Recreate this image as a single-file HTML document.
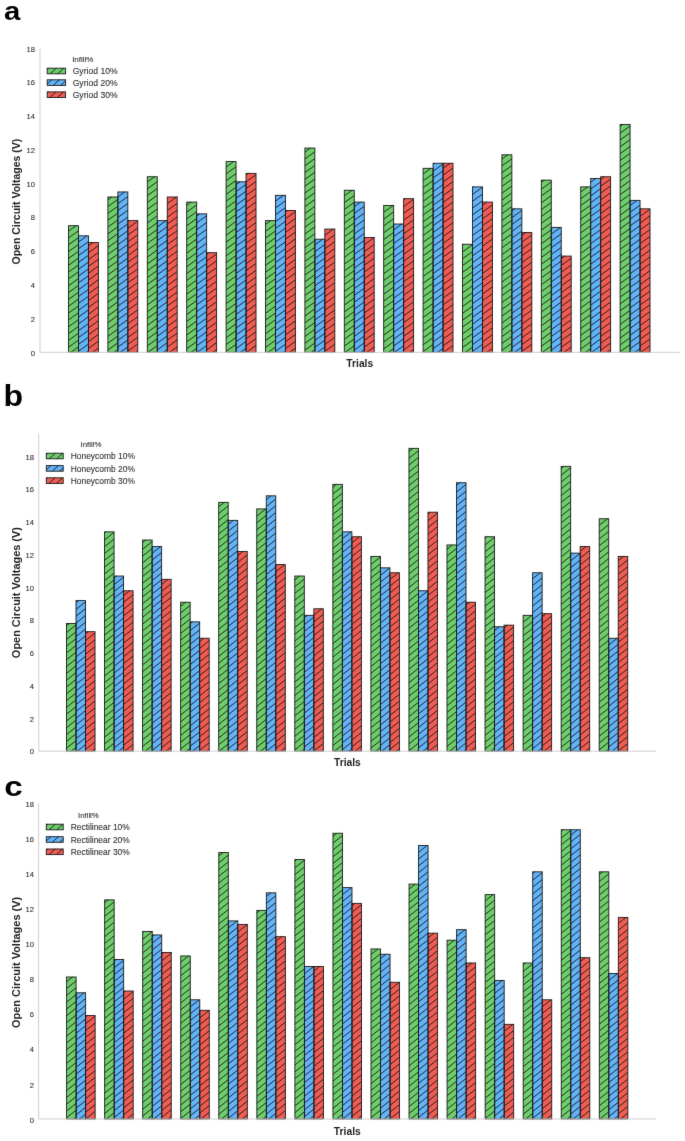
<!DOCTYPE html>
<html><head><meta charset="utf-8"><title>Figure</title>
<style>
html,body{margin:0;padding:0;background:#fff;}
body{width:685px;height:1141px;overflow:hidden;}
svg{display:block;font-family:"Liberation Sans",sans-serif;}
.tk{font-size:7.6px;fill:#303030;stroke:#333;stroke-width:0.1;}
.lg{fill:#303030;stroke:#333;stroke-width:0.1;}
.lt{fill:#303030;stroke:#333;stroke-width:0.1;}
.ax{font-weight:bold;fill:#1e1e1e;}
.pl{font-weight:bold;fill:#000;}
.b{stroke:#1a1a1a;stroke-width:0.9;}
.hh{fill:none;stroke:#141414;stroke-width:0.88;}
</style></head><body>
<svg width="685" height="1141" viewBox="0 0 685 1141">
<defs>

<filter id="bl" x="0" y="0" width="685" height="1141" filterUnits="userSpaceOnUse" color-interpolation-filters="sRGB"><feConvolveMatrix order="3" kernelMatrix="0 1 0 1 10 1 0 1 0" divisor="14" edgeMode="duplicate" preserveAlpha="true"/></filter>
</defs>
<g filter="url(#bl)"><rect x="0" y="0" width="685" height="1141" fill="#ffffff"/>
<g>
<text class="pl" font-size="26.5" transform="translate(4,19.6) scale(1.11,1)">a</text>
<text class="tk" text-anchor="end" x="35" y="355.5">0</text>
<text class="tk" text-anchor="end" x="35" y="321.74">2</text>
<text class="tk" text-anchor="end" x="35" y="287.98">4</text>
<text class="tk" text-anchor="end" x="35" y="254.22">6</text>
<text class="tk" text-anchor="end" x="35" y="220.46">8</text>
<text class="tk" text-anchor="end" x="35" y="186.7">10</text>
<text class="tk" text-anchor="end" x="35" y="152.94">12</text>
<text class="tk" text-anchor="end" x="35" y="119.18">14</text>
<text class="tk" text-anchor="end" x="35" y="85.42">16</text>
<text class="tk" text-anchor="end" x="35" y="51.66">18</text>
<text class="ax" font-size="10.5" text-anchor="middle" transform="translate(20.3,201.6) rotate(-90) scale(1,1)">Open Circuit Voltages (V)</text>
<text class="ax" font-size="10.3" text-anchor="middle" x="359.75" y="367.1">Trials</text>
<rect x="68.50" y="225.70" width="9.97" height="126.60" fill="#6fce6c"/>
<rect x="78.47" y="235.83" width="9.97" height="116.47" fill="#62b3f8"/>
<rect x="88.44" y="242.58" width="9.97" height="109.72" fill="#f05c53"/>
<rect x="107.90" y="197.00" width="9.97" height="155.30" fill="#6fce6c"/>
<rect x="117.87" y="191.94" width="9.97" height="160.36" fill="#62b3f8"/>
<rect x="127.84" y="220.64" width="9.97" height="131.66" fill="#f05c53"/>
<rect x="147.30" y="176.75" width="9.97" height="175.55" fill="#6fce6c"/>
<rect x="157.27" y="220.64" width="9.97" height="131.66" fill="#62b3f8"/>
<rect x="167.24" y="197.00" width="9.97" height="155.30" fill="#f05c53"/>
<rect x="186.70" y="202.07" width="9.97" height="150.23" fill="#6fce6c"/>
<rect x="196.67" y="213.88" width="9.97" height="138.42" fill="#62b3f8"/>
<rect x="206.64" y="252.71" width="9.97" height="99.59" fill="#f05c53"/>
<rect x="226.10" y="161.56" width="9.97" height="190.74" fill="#6fce6c"/>
<rect x="236.07" y="181.81" width="9.97" height="170.49" fill="#62b3f8"/>
<rect x="246.04" y="173.37" width="9.97" height="178.93" fill="#f05c53"/>
<rect x="265.50" y="220.64" width="9.97" height="131.66" fill="#6fce6c"/>
<rect x="275.47" y="195.32" width="9.97" height="156.98" fill="#62b3f8"/>
<rect x="285.44" y="210.51" width="9.97" height="141.79" fill="#f05c53"/>
<rect x="304.90" y="148.05" width="9.97" height="204.25" fill="#6fce6c"/>
<rect x="314.87" y="239.20" width="9.97" height="113.10" fill="#62b3f8"/>
<rect x="324.84" y="229.08" width="9.97" height="123.22" fill="#f05c53"/>
<rect x="344.30" y="190.25" width="9.97" height="162.05" fill="#6fce6c"/>
<rect x="354.27" y="202.07" width="9.97" height="150.23" fill="#62b3f8"/>
<rect x="364.24" y="237.52" width="9.97" height="114.78" fill="#f05c53"/>
<rect x="383.70" y="205.44" width="9.97" height="146.86" fill="#6fce6c"/>
<rect x="393.67" y="224.01" width="9.97" height="128.29" fill="#62b3f8"/>
<rect x="403.64" y="198.69" width="9.97" height="153.61" fill="#f05c53"/>
<rect x="423.10" y="168.31" width="9.97" height="183.99" fill="#6fce6c"/>
<rect x="433.07" y="163.24" width="9.97" height="189.06" fill="#62b3f8"/>
<rect x="443.04" y="163.24" width="9.97" height="189.06" fill="#f05c53"/>
<rect x="462.50" y="244.27" width="9.97" height="108.03" fill="#6fce6c"/>
<rect x="472.47" y="186.88" width="9.97" height="165.42" fill="#62b3f8"/>
<rect x="482.44" y="202.07" width="9.97" height="150.23" fill="#f05c53"/>
<rect x="501.90" y="154.80" width="9.97" height="197.50" fill="#6fce6c"/>
<rect x="511.87" y="208.82" width="9.97" height="143.48" fill="#62b3f8"/>
<rect x="521.84" y="232.45" width="9.97" height="119.85" fill="#f05c53"/>
<rect x="541.30" y="180.12" width="9.97" height="172.18" fill="#6fce6c"/>
<rect x="551.27" y="227.39" width="9.97" height="124.91" fill="#62b3f8"/>
<rect x="561.24" y="256.08" width="9.97" height="96.22" fill="#f05c53"/>
<rect x="580.70" y="186.88" width="9.97" height="165.42" fill="#6fce6c"/>
<rect x="590.67" y="178.44" width="9.97" height="173.86" fill="#62b3f8"/>
<rect x="600.64" y="176.75" width="9.97" height="175.55" fill="#f05c53"/>
<rect x="620.10" y="124.42" width="9.97" height="227.88" fill="#6fce6c"/>
<rect x="630.07" y="200.38" width="9.97" height="151.92" fill="#62b3f8"/>
<rect x="640.04" y="208.82" width="9.97" height="143.48" fill="#f05c53"/>
<path class="hh" d="M68.50 231.14L76.05 225.70M68.50 237.97L78.47 230.79M68.50 244.80L78.47 237.62M68.50 251.63L78.47 244.45M68.50 258.46L78.47 251.28M68.50 265.29L78.47 258.11M68.50 272.12L78.47 264.94M68.50 278.95L78.47 271.77M68.50 285.78L78.47 278.60M68.50 292.61L78.47 285.43M68.50 299.44L78.47 292.26M68.50 306.27L78.47 299.09M68.50 313.10L78.47 305.92M68.50 319.93L78.47 312.75M68.50 326.76L78.47 319.58M68.50 333.59L78.47 326.41M68.50 340.42L78.47 333.24M68.50 347.25L78.47 340.07M70.97 352.30L78.47 346.90M78.47 241.95L86.98 235.83M78.47 248.78L88.44 241.61M78.47 255.61L88.44 248.44M78.47 262.44L88.44 255.27M78.47 269.27L88.44 262.10M78.47 276.10L88.44 268.93M78.47 282.93L88.44 275.76M78.47 289.76L88.44 282.59M78.47 296.59L88.44 289.42M78.47 303.42L88.44 296.25M78.47 310.25L88.44 303.08M78.47 317.08L88.44 309.91M78.47 323.91L88.44 316.74M78.47 330.74L88.44 323.57M78.47 337.57L88.44 330.40M78.47 344.40L88.44 337.23M78.47 351.23L88.44 344.06M86.48 352.30L88.44 350.89M88.44 245.94L93.11 242.58M88.44 252.77L98.41 245.59M88.44 259.60L98.41 252.42M88.44 266.43L98.41 259.25M88.44 273.26L98.41 266.08M88.44 280.09L98.41 272.91M88.44 286.92L98.41 279.74M88.44 293.75L98.41 286.57M88.44 300.58L98.41 293.40M88.44 307.41L98.41 300.23M88.44 314.24L98.41 307.06M88.44 321.07L98.41 313.89M88.44 327.90L98.41 320.72M88.44 334.73L98.41 327.55M88.44 341.56L98.41 334.38M88.44 348.39L98.41 341.21M92.50 352.30L98.41 348.04M107.90 199.75L111.71 197.00M107.90 206.58L117.87 199.40M107.90 213.41L117.87 206.23M107.90 220.24L117.87 213.06M107.90 227.07L117.87 219.89M107.90 233.90L117.87 226.72M107.90 240.73L117.87 233.55M107.90 247.56L117.87 240.38M107.90 254.39L117.87 247.21M107.90 261.22L117.87 254.04M107.90 268.05L117.87 260.87M107.90 274.88L117.87 267.70M107.90 281.71L117.87 274.53M107.90 288.54L117.87 281.36M107.90 295.37L117.87 288.19M107.90 302.20L117.87 295.02M107.90 309.03L117.87 301.85M107.90 315.86L117.87 308.68M107.90 322.69L117.87 315.51M107.90 329.52L117.87 322.34M107.90 336.35L117.87 329.17M107.90 343.18L117.87 336.00M107.90 350.01L117.87 342.83M114.20 352.30L117.87 349.66M117.87 196.91L124.77 191.94M117.87 203.74L127.84 196.56M117.87 210.57L127.84 203.39M117.87 217.40L127.84 210.22M117.87 224.23L127.84 217.05M117.87 231.06L127.84 223.88M117.87 237.89L127.84 230.71M117.87 244.72L127.84 237.54M117.87 251.55L127.84 244.37M117.87 258.38L127.84 251.20M117.87 265.21L127.84 258.03M117.87 272.04L127.84 264.86M117.87 278.87L127.84 271.69M117.87 285.70L127.84 278.52M117.87 292.53L127.84 285.35M117.87 299.36L127.84 292.18M117.87 306.19L127.84 299.01M117.87 313.02L127.84 305.84M117.87 319.85L127.84 312.67M117.87 326.68L127.84 319.50M117.87 333.51L127.84 326.33M117.87 340.34L127.84 333.16M117.87 347.17L127.84 339.99M120.23 352.30L127.84 346.82M127.84 221.39L128.88 220.64M127.84 228.22L137.81 221.04M127.84 235.05L137.81 227.87M127.84 241.88L137.81 234.70M127.84 248.71L137.81 241.53M127.84 255.54L137.81 248.36M127.84 262.37L137.81 255.19M127.84 269.20L137.81 262.02M127.84 276.03L137.81 268.85M127.84 282.86L137.81 275.68M127.84 289.69L137.81 282.51M127.84 296.52L137.81 289.34M127.84 303.35L137.81 296.17M127.84 310.18L137.81 303.00M127.84 317.01L137.81 309.83M127.84 323.84L137.81 316.66M127.84 330.67L137.81 323.49M127.84 337.50L137.81 330.32M127.84 344.33L137.81 337.15M127.84 351.16L137.81 343.98M135.74 352.30L137.81 350.81M147.30 182.02L154.62 176.75M147.30 188.85L157.27 181.67M147.30 195.68L157.27 188.50M147.30 202.51L157.27 195.33M147.30 209.34L157.27 202.16M147.30 216.17L157.27 208.99M147.30 223.00L157.27 215.82M147.30 229.83L157.27 222.65M147.30 236.66L157.27 229.48M147.30 243.49L157.27 236.31M147.30 250.32L157.27 243.14M147.30 257.15L157.27 249.97M147.30 263.98L157.27 256.80M147.30 270.81L157.27 263.63M147.30 277.64L157.27 270.46M147.30 284.47L157.27 277.29M147.30 291.30L157.27 284.12M147.30 298.13L157.27 290.95M147.30 304.96L157.27 297.78M147.30 311.79L157.27 304.61M147.30 318.62L157.27 311.44M147.30 325.45L157.27 318.27M147.30 332.28L157.27 325.10M147.30 339.11L157.27 331.93M147.30 345.94L157.27 338.76M147.95 352.30L157.27 345.59M157.27 226.99L166.09 220.64M157.27 233.82L167.24 226.64M157.27 240.65L167.24 233.47M157.27 247.48L167.24 240.30M157.27 254.31L167.24 247.13M157.27 261.14L167.24 253.96M157.27 267.97L167.24 260.79M157.27 274.80L167.24 267.62M157.27 281.63L167.24 274.45M157.27 288.46L167.24 281.28M157.27 295.29L167.24 288.11M157.27 302.12L167.24 294.94M157.27 308.95L167.24 301.77M157.27 315.78L167.24 308.60M157.27 322.61L167.24 315.43M157.27 329.44L167.24 322.26M157.27 336.27L167.24 329.09M157.27 343.10L167.24 335.92M157.27 349.93L167.24 342.75M163.46 352.30L167.24 349.58M167.24 203.66L176.48 197.00M167.24 210.49L177.21 203.31M167.24 217.32L177.21 210.14M167.24 224.15L177.21 216.97M167.24 230.98L177.21 223.80M167.24 237.81L177.21 230.63M167.24 244.64L177.21 237.46M167.24 251.47L177.21 244.29M167.24 258.30L177.21 251.12M167.24 265.13L177.21 257.95M167.24 271.96L177.21 264.78M167.24 278.79L177.21 271.61M167.24 285.62L177.21 278.44M167.24 292.45L177.21 285.27M167.24 299.28L177.21 292.10M167.24 306.11L177.21 298.93M167.24 312.94L177.21 305.76M167.24 319.77L177.21 312.59M167.24 326.60L177.21 319.42M167.24 333.43L177.21 326.25M167.24 340.26L177.21 333.08M167.24 347.09L177.21 339.91M169.49 352.30L177.21 346.74M186.70 205.27L191.15 202.07M186.70 212.10L196.67 204.92M186.70 218.93L196.67 211.75M186.70 225.76L196.67 218.58M186.70 232.59L196.67 225.41M186.70 239.42L196.67 232.24M186.70 246.25L196.67 239.07M186.70 253.08L196.67 245.90M186.70 259.91L196.67 252.73M186.70 266.74L196.67 259.56M186.70 273.57L196.67 266.39M186.70 280.40L196.67 273.22M186.70 287.23L196.67 280.05M186.70 294.06L196.67 286.88M186.70 300.89L196.67 293.71M186.70 307.72L196.67 300.54M186.70 314.55L196.67 307.37M186.70 321.38L196.67 314.20M186.70 328.21L196.67 321.03M186.70 335.04L196.67 327.86M186.70 341.87L196.67 334.69M186.70 348.70L196.67 341.52M191.19 352.30L196.67 348.35M196.67 216.09L199.73 213.88M196.67 222.92L206.64 215.74M196.67 229.75L206.64 222.57M196.67 236.58L206.64 229.40M196.67 243.41L206.64 236.23M196.67 250.24L206.64 243.06M196.67 257.07L206.64 249.89M196.67 263.90L206.64 256.72M196.67 270.73L206.64 263.55M196.67 277.56L206.64 270.38M196.67 284.39L206.64 277.21M196.67 291.22L206.64 284.04M196.67 298.05L206.64 290.87M196.67 304.88L206.64 297.70M196.67 311.71L206.64 304.53M196.67 318.54L206.64 311.36M196.67 325.37L206.64 318.19M196.67 332.20L206.64 325.02M196.67 339.03L206.64 331.85M196.67 345.86L206.64 338.68M197.21 352.30L206.64 345.51M206.64 254.23L208.75 252.71M206.64 261.06L216.61 253.88M206.64 267.89L216.61 260.71M206.64 274.72L216.61 267.54M206.64 281.55L216.61 274.37M206.64 288.38L216.61 281.20M206.64 295.21L216.61 288.03M206.64 302.04L216.61 294.86M206.64 308.87L216.61 301.69M206.64 315.70L216.61 308.52M206.64 322.53L216.61 315.35M206.64 329.36L216.61 322.18M206.64 336.19L216.61 329.01M206.64 343.02L216.61 335.84M206.64 349.85L216.61 342.67M212.72 352.30L216.61 349.50M226.10 167.05L233.73 161.56M226.10 173.88L236.07 166.70M226.10 180.71L236.07 173.53M226.10 187.54L236.07 180.36M226.10 194.37L236.07 187.19M226.10 201.20L236.07 194.02M226.10 208.03L236.07 200.85M226.10 214.86L236.07 207.68M226.10 221.69L236.07 214.51M226.10 228.52L236.07 221.34M226.10 235.35L236.07 228.17M226.10 242.18L236.07 235.00M226.10 249.01L236.07 241.83M226.10 255.84L236.07 248.66M226.10 262.67L236.07 255.49M226.10 269.50L236.07 262.32M226.10 276.33L236.07 269.15M226.10 283.16L236.07 275.98M226.10 289.99L236.07 282.81M226.10 296.82L236.07 289.64M226.10 303.65L236.07 296.47M226.10 310.48L236.07 303.30M226.10 317.31L236.07 310.13M226.10 324.14L236.07 316.96M226.10 330.97L236.07 323.79M226.10 337.80L236.07 330.62M226.10 344.63L236.07 337.45M226.10 351.46L236.07 344.28M234.42 352.30L236.07 351.11M236.07 184.70L240.08 181.81M236.07 191.53L246.04 184.35M236.07 198.36L246.04 191.18M236.07 205.19L246.04 198.01M236.07 212.02L246.04 204.84M236.07 218.85L246.04 211.67M236.07 225.68L246.04 218.50M236.07 232.51L246.04 225.33M236.07 239.34L246.04 232.16M236.07 246.17L246.04 238.99M236.07 253.00L246.04 245.82M236.07 259.83L246.04 252.65M236.07 266.66L246.04 259.48M236.07 273.49L246.04 266.31M236.07 280.32L246.04 273.14M236.07 287.15L246.04 279.97M236.07 293.98L246.04 286.80M236.07 300.81L246.04 293.63M236.07 307.64L246.04 300.46M236.07 314.47L246.04 307.29M236.07 321.30L246.04 314.12M236.07 328.13L246.04 320.95M236.07 334.96L246.04 327.78M236.07 341.79L246.04 334.61M236.07 348.62L246.04 341.44M240.45 352.30L246.04 348.27M246.04 175.03L248.34 173.37M246.04 181.86L256.01 174.68M246.04 188.69L256.01 181.51M246.04 195.52L256.01 188.34M246.04 202.35L256.01 195.17M246.04 209.18L256.01 202.00M246.04 216.01L256.01 208.83M246.04 222.84L256.01 215.66M246.04 229.67L256.01 222.49M246.04 236.50L256.01 229.32M246.04 243.33L256.01 236.15M246.04 250.16L256.01 242.98M246.04 256.99L256.01 249.81M246.04 263.82L256.01 256.64M246.04 270.65L256.01 263.47M246.04 277.48L256.01 270.30M246.04 284.31L256.01 277.13M246.04 291.14L256.01 283.96M246.04 297.97L256.01 290.79M246.04 304.80L256.01 297.62M246.04 311.63L256.01 304.45M246.04 318.46L256.01 311.28M246.04 325.29L256.01 318.11M246.04 332.12L256.01 324.94M246.04 338.95L256.01 331.77M246.04 345.78L256.01 338.60M246.47 352.30L256.01 345.43M265.50 224.46L270.80 220.64M265.50 231.29L275.47 224.11M265.50 238.12L275.47 230.94M265.50 244.95L275.47 237.77M265.50 251.78L275.47 244.60M265.50 258.61L275.47 251.43M265.50 265.44L275.47 258.26M265.50 272.27L275.47 265.09M265.50 279.10L275.47 271.92M265.50 285.93L275.47 278.75M265.50 292.76L275.47 285.58M265.50 299.59L275.47 292.41M265.50 306.42L275.47 299.24M265.50 313.25L275.47 306.07M265.50 320.08L275.47 312.90M265.50 326.91L275.47 319.73M265.50 333.74L275.47 326.56M265.50 340.57L275.47 333.39M265.50 347.40L275.47 340.22M268.17 352.30L275.47 347.05M275.47 201.12L283.54 195.32M275.47 207.95L285.44 200.78M275.47 214.78L285.44 207.61M275.47 221.61L285.44 214.44M275.47 228.44L285.44 221.27M275.47 235.27L285.44 228.10M275.47 242.10L285.44 234.93M275.47 248.93L285.44 241.76M275.47 255.76L285.44 248.59M275.47 262.59L285.44 255.42M275.47 269.42L285.44 262.25M275.47 276.25L285.44 269.08M275.47 283.08L285.44 275.91M275.47 289.91L285.44 282.74M275.47 296.74L285.44 289.57M275.47 303.57L285.44 296.40M275.47 310.40L285.44 303.23M275.47 317.23L285.44 310.06M275.47 324.06L285.44 316.89M275.47 330.89L285.44 323.72M275.47 337.72L285.44 330.55M275.47 344.55L285.44 337.38M275.47 351.38L285.44 344.21M283.68 352.30L285.44 351.04M285.44 211.94L287.43 210.51M285.44 218.77L295.41 211.59M285.44 225.60L295.41 218.42M285.44 232.43L295.41 225.25M285.44 239.26L295.41 232.08M285.44 246.09L295.41 238.91M285.44 252.92L295.41 245.74M285.44 259.75L295.41 252.57M285.44 266.58L295.41 259.40M285.44 273.41L295.41 266.23M285.44 280.24L295.41 273.06M285.44 287.07L295.41 279.89M285.44 293.90L295.41 286.72M285.44 300.73L295.41 293.55M285.44 307.56L295.41 300.38M285.44 314.39L295.41 307.21M285.44 321.22L295.41 314.04M285.44 328.05L295.41 320.87M285.44 334.88L295.41 327.70M285.44 341.71L295.41 334.53M285.44 348.54L295.41 341.36M289.71 352.30L295.41 348.19M304.90 152.09L310.50 148.05M304.90 158.92L314.87 151.74M304.90 165.75L314.87 158.57M304.90 172.58L314.87 165.40M304.90 179.41L314.87 172.23M304.90 186.24L314.87 179.06M304.90 193.07L314.87 185.89M304.90 199.90L314.87 192.72M304.90 206.73L314.87 199.55M304.90 213.56L314.87 206.38M304.90 220.39L314.87 213.21M304.90 227.22L314.87 220.04M304.90 234.05L314.87 226.87M304.90 240.88L314.87 233.70M304.90 247.71L314.87 240.53M304.90 254.54L314.87 247.36M304.90 261.37L314.87 254.19M304.90 268.20L314.87 261.02M304.90 275.03L314.87 267.85M304.90 281.86L314.87 274.68M304.90 288.69L314.87 281.51M304.90 295.52L314.87 288.34M304.90 302.35L314.87 295.17M304.90 309.18L314.87 302.00M304.90 316.01L314.87 308.83M304.90 322.84L314.87 315.66M304.90 329.67L314.87 322.49M304.90 336.50L314.87 329.32M304.90 343.33L314.87 336.15M304.90 350.16L314.87 342.98M311.41 352.30L314.87 349.81M314.87 244.87L322.73 239.20M314.87 251.70L324.84 244.52M314.87 258.53L324.84 251.35M314.87 265.36L324.84 258.18M314.87 272.19L324.84 265.01M314.87 279.02L324.84 271.84M314.87 285.85L324.84 278.67M314.87 292.68L324.84 285.50M314.87 299.51L324.84 292.33M314.87 306.34L324.84 299.16M314.87 313.17L324.84 305.99M314.87 320.00L324.84 312.82M314.87 326.83L324.84 319.65M314.87 333.66L324.84 326.48M314.87 340.49L324.84 333.31M314.87 347.32L324.84 340.14M317.43 352.30L324.84 346.97M324.84 235.20L333.34 229.08M324.84 242.03L334.81 234.85M324.84 248.86L334.81 241.68M324.84 255.69L334.81 248.51M324.84 262.52L334.81 255.34M324.84 269.35L334.81 262.17M324.84 276.18L334.81 269.00M324.84 283.01L334.81 275.83M324.84 289.84L334.81 282.66M324.84 296.67L334.81 289.49M324.84 303.50L334.81 296.32M324.84 310.33L334.81 303.15M324.84 317.16L334.81 309.98M324.84 323.99L334.81 316.81M324.84 330.82L334.81 323.64M324.84 337.65L334.81 330.47M324.84 344.48L334.81 337.30M324.84 351.31L334.81 344.13M332.94 352.30L334.81 350.96M344.30 195.83L352.05 190.25M344.30 202.66L354.27 195.48M344.30 209.49L354.27 202.31M344.30 216.32L354.27 209.14M344.30 223.15L354.27 215.97M344.30 229.98L354.27 222.80M344.30 236.81L354.27 229.63M344.30 243.64L354.27 236.46M344.30 250.47L354.27 243.29M344.30 257.30L354.27 250.12M344.30 264.13L354.27 256.95M344.30 270.96L354.27 263.78M344.30 277.79L354.27 270.61M344.30 284.62L354.27 277.44M344.30 291.45L354.27 284.27M344.30 298.28L354.27 291.10M344.30 305.11L354.27 297.93M344.30 311.94L354.27 304.76M344.30 318.77L354.27 311.59M344.30 325.60L354.27 318.42M344.30 332.43L354.27 325.25M344.30 339.26L354.27 332.08M344.30 346.09L354.27 338.91M345.16 352.30L354.27 345.74M354.27 206.65L360.63 202.07M354.27 213.48L364.24 206.30M354.27 220.31L364.24 213.13M354.27 227.14L364.24 219.96M354.27 233.97L364.24 226.79M354.27 240.80L364.24 233.62M354.27 247.63L364.24 240.45M354.27 254.46L364.24 247.28M354.27 261.29L364.24 254.11M354.27 268.12L364.24 260.94M354.27 274.95L364.24 267.77M354.27 281.78L364.24 274.60M354.27 288.61L364.24 281.43M354.27 295.44L364.24 288.26M354.27 302.27L364.24 295.09M354.27 309.10L364.24 301.92M354.27 315.93L364.24 308.75M354.27 322.76L364.24 315.58M354.27 329.59L364.24 322.41M354.27 336.42L364.24 329.24M354.27 343.25L364.24 336.07M354.27 350.08L364.24 342.90M360.67 352.30L364.24 349.73M364.24 237.96L364.85 237.52M364.24 244.79L374.21 237.61M364.24 251.62L374.21 244.44M364.24 258.45L374.21 251.27M364.24 265.28L374.21 258.10M364.24 272.11L374.21 264.93M364.24 278.94L374.21 271.76M364.24 285.77L374.21 278.59M364.24 292.60L374.21 285.42M364.24 299.43L374.21 292.25M364.24 306.26L374.21 299.08M364.24 313.09L374.21 305.91M364.24 319.92L374.21 312.74M364.24 326.75L374.21 319.57M364.24 333.58L374.21 326.40M364.24 340.41L374.21 333.23M364.24 347.24L374.21 340.06M366.69 352.30L374.21 346.89M383.70 212.25L393.15 205.44M383.70 219.08L393.67 211.90M383.70 225.91L393.67 218.73M383.70 232.74L393.67 225.56M383.70 239.57L393.67 232.39M383.70 246.40L393.67 239.22M383.70 253.23L393.67 246.05M383.70 260.06L393.67 252.88M383.70 266.89L393.67 259.71M383.70 273.72L393.67 266.54M383.70 280.55L393.67 273.37M383.70 287.38L393.67 280.20M383.70 294.21L393.67 287.03M383.70 301.04L393.67 293.86M383.70 307.87L393.67 300.69M383.70 314.70L393.67 307.52M383.70 321.53L393.67 314.35M383.70 328.36L393.67 321.18M383.70 335.19L393.67 328.01M383.70 342.02L393.67 334.84M383.70 348.85L393.67 341.67M388.40 352.30L393.67 348.50M393.67 229.90L401.85 224.01M393.67 236.73L403.64 229.55M393.67 243.56L403.64 236.38M393.67 250.39L403.64 243.21M393.67 257.22L403.64 250.04M393.67 264.05L403.64 256.87M393.67 270.88L403.64 263.70M393.67 277.71L403.64 270.53M393.67 284.54L403.64 277.36M393.67 291.37L403.64 284.19M393.67 298.20L403.64 291.02M393.67 305.03L403.64 297.85M393.67 311.86L403.64 304.68M393.67 318.69L403.64 311.51M393.67 325.52L403.64 318.34M393.67 332.35L403.64 325.17M393.67 339.18L403.64 332.00M393.67 346.01L403.64 338.83M394.42 352.30L403.64 345.66M403.64 199.74L405.09 198.69M403.64 206.57L413.61 199.39M403.64 213.40L413.61 206.22M403.64 220.23L413.61 213.05M403.64 227.06L413.61 219.88M403.64 233.89L413.61 226.71M403.64 240.72L413.61 233.54M403.64 247.55L413.61 240.37M403.64 254.38L413.61 247.20M403.64 261.21L413.61 254.03M403.64 268.04L413.61 260.86M403.64 274.87L413.61 267.69M403.64 281.70L413.61 274.52M403.64 288.53L413.61 281.35M403.64 295.36L413.61 288.18M403.64 302.19L413.61 295.01M403.64 309.02L413.61 301.84M403.64 315.85L413.61 308.67M403.64 322.68L413.61 315.50M403.64 329.51L413.61 322.33M403.64 336.34L413.61 329.16M403.64 343.17L413.61 335.99M403.64 350.00L413.61 342.82M409.93 352.30L413.61 349.65M423.10 174.03L431.05 168.31M423.10 180.86L433.07 173.68M423.10 187.69L433.07 180.51M423.10 194.52L433.07 187.34M423.10 201.35L433.07 194.17M423.10 208.18L433.07 201.00M423.10 215.01L433.07 207.83M423.10 221.84L433.07 214.66M423.10 228.67L433.07 221.49M423.10 235.50L433.07 228.32M423.10 242.33L433.07 235.15M423.10 249.16L433.07 241.98M423.10 255.99L433.07 248.81M423.10 262.82L433.07 255.64M423.10 269.65L433.07 262.47M423.10 276.48L433.07 269.30M423.10 283.31L433.07 276.13M423.10 290.14L433.07 282.96M423.10 296.97L433.07 289.79M423.10 303.80L433.07 296.62M423.10 310.63L433.07 303.45M423.10 317.46L433.07 310.28M423.10 324.29L433.07 317.11M423.10 331.12L433.07 323.94M423.10 337.95L433.07 330.77M423.10 344.78L433.07 337.60M423.10 351.61L433.07 344.43M431.63 352.30L433.07 351.26M433.07 164.36L434.62 163.24M433.07 171.19L443.04 164.01M433.07 178.02L443.04 170.84M433.07 184.85L443.04 177.67M433.07 191.68L443.04 184.50M433.07 198.51L443.04 191.33M433.07 205.34L443.04 198.16M433.07 212.17L443.04 204.99M433.07 219.00L443.04 211.82M433.07 225.83L443.04 218.65M433.07 232.66L443.04 225.48M433.07 239.49L443.04 232.31M433.07 246.32L443.04 239.14M433.07 253.15L443.04 245.97M433.07 259.98L443.04 252.80M433.07 266.81L443.04 259.63M433.07 273.64L443.04 266.46M433.07 280.47L443.04 273.29M433.07 287.30L443.04 280.12M433.07 294.13L443.04 286.95M433.07 300.96L443.04 293.78M433.07 307.79L443.04 300.61M433.07 314.62L443.04 307.44M433.07 321.45L443.04 314.27M433.07 328.28L443.04 321.10M433.07 335.11L443.04 327.93M433.07 341.94L443.04 334.76M433.07 348.77L443.04 341.59M437.66 352.30L443.04 348.42M443.04 168.35L450.13 163.24M443.04 175.18L453.01 168.00M443.04 182.01L453.01 174.83M443.04 188.84L453.01 181.66M443.04 195.67L453.01 188.49M443.04 202.50L453.01 195.32M443.04 209.33L453.01 202.15M443.04 216.16L453.01 208.98M443.04 222.99L453.01 215.81M443.04 229.82L453.01 222.64M443.04 236.65L453.01 229.47M443.04 243.48L453.01 236.30M443.04 250.31L453.01 243.13M443.04 257.14L453.01 249.96M443.04 263.97L453.01 256.79M443.04 270.80L453.01 263.62M443.04 277.63L453.01 270.45M443.04 284.46L453.01 277.28M443.04 291.29L453.01 284.11M443.04 298.12L453.01 290.94M443.04 304.95L453.01 297.77M443.04 311.78L453.01 304.60M443.04 318.61L453.01 311.43M443.04 325.44L453.01 318.26M443.04 332.27L453.01 325.09M443.04 339.10L453.01 331.92M443.04 345.93L453.01 338.75M443.68 352.30L453.01 345.58M462.50 245.10L463.65 244.27M462.50 251.93L472.47 244.75M462.50 258.76L472.47 251.58M462.50 265.59L472.47 258.41M462.50 272.42L472.47 265.24M462.50 279.25L472.47 272.07M462.50 286.08L472.47 278.90M462.50 292.91L472.47 285.73M462.50 299.74L472.47 292.56M462.50 306.57L472.47 299.39M462.50 313.40L472.47 306.22M462.50 320.23L472.47 313.05M462.50 327.06L472.47 319.88M462.50 333.89L472.47 326.71M462.50 340.72L472.47 333.54M462.50 347.55L472.47 340.37M465.38 352.30L472.47 347.20M472.47 187.61L473.50 186.88M472.47 194.44L482.44 187.27M472.47 201.27L482.44 194.10M472.47 208.10L482.44 200.93M472.47 214.93L482.44 207.76M472.47 221.76L482.44 214.59M472.47 228.59L482.44 221.42M472.47 235.42L482.44 228.25M472.47 242.25L482.44 235.08M472.47 249.08L482.44 241.91M472.47 255.91L482.44 248.74M472.47 262.74L482.44 255.57M472.47 269.57L482.44 262.40M472.47 276.40L482.44 269.23M472.47 283.23L482.44 276.06M472.47 290.06L482.44 282.89M472.47 296.89L482.44 289.72M472.47 303.72L482.44 296.55M472.47 310.55L482.44 303.38M472.47 317.38L482.44 310.21M472.47 324.21L482.44 317.04M472.47 331.04L482.44 323.87M472.47 337.87L482.44 330.70M472.47 344.70L482.44 337.53M472.47 351.53L482.44 344.36M480.89 352.30L482.44 351.19M482.44 205.26L486.88 202.07M482.44 212.09L492.41 204.91M482.44 218.92L492.41 211.74M482.44 225.75L492.41 218.57M482.44 232.58L492.41 225.40M482.44 239.41L492.41 232.23M482.44 246.24L492.41 239.06M482.44 253.07L492.41 245.89M482.44 259.90L492.41 252.72M482.44 266.73L492.41 259.55M482.44 273.56L492.41 266.38M482.44 280.39L492.41 273.21M482.44 287.22L492.41 280.04M482.44 294.05L492.41 286.87M482.44 300.88L492.41 293.70M482.44 307.71L492.41 300.53M482.44 314.54L492.41 307.36M482.44 321.37L492.41 314.19M482.44 328.20L492.41 321.02M482.44 335.03L492.41 327.85M482.44 341.86L492.41 334.68M482.44 348.69L492.41 341.51M486.92 352.30L492.41 348.34M501.90 159.07L507.82 154.80M501.90 165.90L511.87 158.72M501.90 172.73L511.87 165.55M501.90 179.56L511.87 172.38M501.90 186.39L511.87 179.21M501.90 193.22L511.87 186.04M501.90 200.05L511.87 192.87M501.90 206.88L511.87 199.70M501.90 213.71L511.87 206.53M501.90 220.54L511.87 213.36M501.90 227.37L511.87 220.19M501.90 234.20L511.87 227.02M501.90 241.03L511.87 233.85M501.90 247.86L511.87 240.68M501.90 254.69L511.87 247.51M501.90 261.52L511.87 254.34M501.90 268.35L511.87 261.17M501.90 275.18L511.87 268.00M501.90 282.01L511.87 274.83M501.90 288.84L511.87 281.66M501.90 295.67L511.87 288.49M501.90 302.50L511.87 295.32M501.90 309.33L511.87 302.15M501.90 316.16L511.87 308.98M501.90 322.99L511.87 315.81M501.90 329.82L511.87 322.64M501.90 336.65L511.87 329.47M501.90 343.48L511.87 336.30M501.90 350.31L511.87 343.13M508.62 352.30L511.87 349.96M511.87 210.87L514.71 208.82M511.87 217.70L521.84 210.52M511.87 224.53L521.84 217.35M511.87 231.36L521.84 224.18M511.87 238.19L521.84 231.01M511.87 245.02L521.84 237.84M511.87 251.85L521.84 244.67M511.87 258.68L521.84 251.50M511.87 265.51L521.84 258.33M511.87 272.34L521.84 265.16M511.87 279.17L521.84 271.99M511.87 286.00L521.84 278.82M511.87 292.83L521.84 285.65M511.87 299.66L521.84 292.48M511.87 306.49L521.84 299.31M511.87 313.32L521.84 306.14M511.87 320.15L521.84 312.97M511.87 326.98L521.84 319.80M511.87 333.81L521.84 326.63M511.87 340.64L521.84 333.46M511.87 347.47L521.84 340.29M514.64 352.30L521.84 347.12M521.84 235.35L525.86 232.45M521.84 242.18L531.81 235.00M521.84 249.01L531.81 241.83M521.84 255.84L531.81 248.66M521.84 262.67L531.81 255.49M521.84 269.50L531.81 262.32M521.84 276.33L531.81 269.15M521.84 283.16L531.81 275.98M521.84 289.99L531.81 282.81M521.84 296.82L531.81 289.64M521.84 303.65L531.81 296.47M521.84 310.48L531.81 303.30M521.84 317.31L531.81 310.13M521.84 324.14L531.81 316.96M521.84 330.97L531.81 323.79M521.84 337.80L531.81 330.62M521.84 344.63L531.81 337.45M521.84 351.46L531.81 344.28M530.15 352.30L531.81 351.11M541.30 182.32L544.35 180.12M541.30 189.15L551.27 181.97M541.30 195.98L551.27 188.80M541.30 202.81L551.27 195.63M541.30 209.64L551.27 202.46M541.30 216.47L551.27 209.29M541.30 223.30L551.27 216.12M541.30 230.13L551.27 222.95M541.30 236.96L551.27 229.78M541.30 243.79L551.27 236.61M541.30 250.62L551.27 243.44M541.30 257.45L551.27 250.27M541.30 264.28L551.27 257.10M541.30 271.11L551.27 263.93M541.30 277.94L551.27 270.76M541.30 284.77L551.27 277.59M541.30 291.60L551.27 284.42M541.30 298.43L551.27 291.25M541.30 305.26L551.27 298.08M541.30 312.09L551.27 304.91M541.30 318.92L551.27 311.74M541.30 325.75L551.27 318.57M541.30 332.58L551.27 325.40M541.30 339.41L551.27 332.23M541.30 346.24L551.27 339.06M542.37 352.30L551.27 345.89M551.27 234.12L560.62 227.39M551.27 240.95L561.24 233.77M551.27 247.78L561.24 240.60M551.27 254.61L561.24 247.43M551.27 261.44L561.24 254.26M551.27 268.27L561.24 261.09M551.27 275.10L561.24 267.92M551.27 281.93L561.24 274.75M551.27 288.76L561.24 281.58M551.27 295.59L561.24 288.41M551.27 302.42L561.24 295.24M551.27 309.25L561.24 302.07M551.27 316.08L561.24 308.90M551.27 322.91L561.24 315.73M551.27 329.74L561.24 322.56M551.27 336.57L561.24 329.39M551.27 343.40L561.24 336.22M551.27 350.23L561.24 343.05M557.88 352.30L561.24 349.88M561.24 258.60L564.73 256.08M561.24 265.43L571.21 258.25M561.24 272.26L571.21 265.08M561.24 279.09L571.21 271.91M561.24 285.92L571.21 278.74M561.24 292.75L571.21 285.57M561.24 299.58L571.21 292.40M561.24 306.41L571.21 299.23M561.24 313.24L571.21 306.06M561.24 320.07L571.21 312.89M561.24 326.90L571.21 319.72M561.24 333.73L571.21 326.55M561.24 340.56L571.21 333.38M561.24 347.39L571.21 340.21M563.90 352.30L571.21 347.04M580.70 191.91L587.69 186.88M580.70 198.74L590.67 191.56M580.70 205.57L590.67 198.39M580.70 212.40L590.67 205.22M580.70 219.23L590.67 212.05M580.70 226.06L590.67 218.88M580.70 232.89L590.67 225.71M580.70 239.72L590.67 232.54M580.70 246.55L590.67 239.37M580.70 253.38L590.67 246.20M580.70 260.21L590.67 253.03M580.70 267.04L590.67 259.86M580.70 273.87L590.67 266.69M580.70 280.70L590.67 273.52M580.70 287.53L590.67 280.35M580.70 294.36L590.67 287.18M580.70 301.19L590.67 294.01M580.70 308.02L590.67 300.84M580.70 314.85L590.67 307.67M580.70 321.68L590.67 314.50M580.70 328.51L590.67 321.33M580.70 335.34L590.67 328.16M580.70 342.17L590.67 334.99M580.70 349.00L590.67 341.82M585.60 352.30L590.67 348.65M590.67 182.24L595.95 178.44M590.67 189.07L600.64 181.89M590.67 195.90L600.64 188.72M590.67 202.73L600.64 195.55M590.67 209.56L600.64 202.38M590.67 216.39L600.64 209.21M590.67 223.22L600.64 216.04M590.67 230.05L600.64 222.87M590.67 236.88L600.64 229.70M590.67 243.71L600.64 236.53M590.67 250.54L600.64 243.36M590.67 257.37L600.64 250.19M590.67 264.20L600.64 257.02M590.67 271.03L600.64 263.85M590.67 277.86L600.64 270.68M590.67 284.69L600.64 277.51M590.67 291.52L600.64 284.34M590.67 298.35L600.64 291.17M590.67 305.18L600.64 298.00M590.67 312.01L600.64 304.83M590.67 318.84L600.64 311.66M590.67 325.67L600.64 318.49M590.67 332.50L600.64 325.32M590.67 339.33L600.64 332.15M590.67 346.16L600.64 338.98M591.63 352.30L600.64 345.81M600.64 179.40L604.32 176.75M600.64 186.23L610.61 179.05M600.64 193.06L610.61 185.88M600.64 199.89L610.61 192.71M600.64 206.72L610.61 199.54M600.64 213.55L610.61 206.37M600.64 220.38L610.61 213.20M600.64 227.21L610.61 220.03M600.64 234.04L610.61 226.86M600.64 240.87L610.61 233.69M600.64 247.70L610.61 240.52M600.64 254.53L610.61 247.35M600.64 261.36L610.61 254.18M600.64 268.19L610.61 261.01M600.64 275.02L610.61 267.84M600.64 281.85L610.61 274.67M600.64 288.68L610.61 281.50M600.64 295.51L610.61 288.33M600.64 302.34L610.61 295.16M600.64 309.17L610.61 301.99M600.64 316.00L610.61 308.82M600.64 322.83L610.61 315.65M600.64 329.66L610.61 322.48M600.64 336.49L610.61 329.31M600.64 343.32L610.61 336.14M600.64 350.15L610.61 342.97M607.14 352.30L610.61 349.80M620.10 126.37L622.81 124.42M620.10 133.20L630.07 126.02M620.10 140.03L630.07 132.85M620.10 146.86L630.07 139.68M620.10 153.69L630.07 146.51M620.10 160.52L630.07 153.34M620.10 167.35L630.07 160.17M620.10 174.18L630.07 167.00M620.10 181.01L630.07 173.83M620.10 187.84L630.07 180.66M620.10 194.67L630.07 187.49M620.10 201.50L630.07 194.32M620.10 208.33L630.07 201.15M620.10 215.16L630.07 207.98M620.10 221.99L630.07 214.81M620.10 228.82L630.07 221.64M620.10 235.65L630.07 228.47M620.10 242.48L630.07 235.30M620.10 249.31L630.07 242.13M620.10 256.14L630.07 248.96M620.10 262.97L630.07 255.79M620.10 269.80L630.07 262.62M620.10 276.63L630.07 269.45M620.10 283.46L630.07 276.28M620.10 290.29L630.07 283.11M620.10 297.12L630.07 289.94M620.10 303.95L630.07 296.77M620.10 310.78L630.07 303.60M620.10 317.61L630.07 310.43M620.10 324.44L630.07 317.26M620.10 331.27L630.07 324.09M620.10 338.10L630.07 330.92M620.10 344.93L630.07 337.75M620.10 351.76L630.07 344.58M628.84 352.30L630.07 351.41M630.07 205.49L637.17 200.38M630.07 212.32L640.04 205.14M630.07 219.15L640.04 211.97M630.07 225.98L640.04 218.80M630.07 232.81L640.04 225.63M630.07 239.64L640.04 232.46M630.07 246.47L640.04 239.29M630.07 253.30L640.04 246.12M630.07 260.13L640.04 252.95M630.07 266.96L640.04 259.78M630.07 273.79L640.04 266.61M630.07 280.62L640.04 273.44M630.07 287.45L640.04 280.27M630.07 294.28L640.04 287.10M630.07 301.11L640.04 293.93M630.07 307.94L640.04 300.76M630.07 314.77L640.04 307.59M630.07 321.60L640.04 314.42M630.07 328.43L640.04 321.25M630.07 335.26L640.04 328.08M630.07 342.09L640.04 334.91M630.07 348.92L640.04 341.74M634.86 352.30L640.04 348.57M640.04 209.48L640.96 208.82M640.04 216.31L650.01 209.13M640.04 223.14L650.01 215.96M640.04 229.97L650.01 222.79M640.04 236.80L650.01 229.62M640.04 243.63L650.01 236.45M640.04 250.46L650.01 243.28M640.04 257.29L650.01 250.11M640.04 264.12L650.01 256.94M640.04 270.95L650.01 263.77M640.04 277.78L650.01 270.60M640.04 284.61L650.01 277.43M640.04 291.44L650.01 284.26M640.04 298.27L650.01 291.09M640.04 305.10L650.01 297.92M640.04 311.93L650.01 304.75M640.04 318.76L650.01 311.58M640.04 325.59L650.01 318.41M640.04 332.42L650.01 325.24M640.04 339.25L650.01 332.07M640.04 346.08L650.01 338.90M640.89 352.30L650.01 345.73"/>
<rect class="b" x="68.50" y="225.70" width="9.97" height="126.60" fill="none"/>
<rect class="b" x="78.47" y="235.83" width="9.97" height="116.47" fill="none"/>
<rect class="b" x="88.44" y="242.58" width="9.97" height="109.72" fill="none"/>
<rect class="b" x="107.90" y="197.00" width="9.97" height="155.30" fill="none"/>
<rect class="b" x="117.87" y="191.94" width="9.97" height="160.36" fill="none"/>
<rect class="b" x="127.84" y="220.64" width="9.97" height="131.66" fill="none"/>
<rect class="b" x="147.30" y="176.75" width="9.97" height="175.55" fill="none"/>
<rect class="b" x="157.27" y="220.64" width="9.97" height="131.66" fill="none"/>
<rect class="b" x="167.24" y="197.00" width="9.97" height="155.30" fill="none"/>
<rect class="b" x="186.70" y="202.07" width="9.97" height="150.23" fill="none"/>
<rect class="b" x="196.67" y="213.88" width="9.97" height="138.42" fill="none"/>
<rect class="b" x="206.64" y="252.71" width="9.97" height="99.59" fill="none"/>
<rect class="b" x="226.10" y="161.56" width="9.97" height="190.74" fill="none"/>
<rect class="b" x="236.07" y="181.81" width="9.97" height="170.49" fill="none"/>
<rect class="b" x="246.04" y="173.37" width="9.97" height="178.93" fill="none"/>
<rect class="b" x="265.50" y="220.64" width="9.97" height="131.66" fill="none"/>
<rect class="b" x="275.47" y="195.32" width="9.97" height="156.98" fill="none"/>
<rect class="b" x="285.44" y="210.51" width="9.97" height="141.79" fill="none"/>
<rect class="b" x="304.90" y="148.05" width="9.97" height="204.25" fill="none"/>
<rect class="b" x="314.87" y="239.20" width="9.97" height="113.10" fill="none"/>
<rect class="b" x="324.84" y="229.08" width="9.97" height="123.22" fill="none"/>
<rect class="b" x="344.30" y="190.25" width="9.97" height="162.05" fill="none"/>
<rect class="b" x="354.27" y="202.07" width="9.97" height="150.23" fill="none"/>
<rect class="b" x="364.24" y="237.52" width="9.97" height="114.78" fill="none"/>
<rect class="b" x="383.70" y="205.44" width="9.97" height="146.86" fill="none"/>
<rect class="b" x="393.67" y="224.01" width="9.97" height="128.29" fill="none"/>
<rect class="b" x="403.64" y="198.69" width="9.97" height="153.61" fill="none"/>
<rect class="b" x="423.10" y="168.31" width="9.97" height="183.99" fill="none"/>
<rect class="b" x="433.07" y="163.24" width="9.97" height="189.06" fill="none"/>
<rect class="b" x="443.04" y="163.24" width="9.97" height="189.06" fill="none"/>
<rect class="b" x="462.50" y="244.27" width="9.97" height="108.03" fill="none"/>
<rect class="b" x="472.47" y="186.88" width="9.97" height="165.42" fill="none"/>
<rect class="b" x="482.44" y="202.07" width="9.97" height="150.23" fill="none"/>
<rect class="b" x="501.90" y="154.80" width="9.97" height="197.50" fill="none"/>
<rect class="b" x="511.87" y="208.82" width="9.97" height="143.48" fill="none"/>
<rect class="b" x="521.84" y="232.45" width="9.97" height="119.85" fill="none"/>
<rect class="b" x="541.30" y="180.12" width="9.97" height="172.18" fill="none"/>
<rect class="b" x="551.27" y="227.39" width="9.97" height="124.91" fill="none"/>
<rect class="b" x="561.24" y="256.08" width="9.97" height="96.22" fill="none"/>
<rect class="b" x="580.70" y="186.88" width="9.97" height="165.42" fill="none"/>
<rect class="b" x="590.67" y="178.44" width="9.97" height="173.86" fill="none"/>
<rect class="b" x="600.64" y="176.75" width="9.97" height="175.55" fill="none"/>
<rect class="b" x="620.10" y="124.42" width="9.97" height="227.88" fill="none"/>
<rect class="b" x="630.07" y="200.38" width="9.97" height="151.92" fill="none"/>
<rect class="b" x="640.04" y="208.82" width="9.97" height="143.48" fill="none"/>
<path d="M40,48.3 V352.3 H679.5" fill="none" stroke="#cfcfcf" stroke-width="1"/>
<text class="lt" font-size="8" text-anchor="middle" x="82.8" y="61.5">Infill%</text>
<rect x="47.2" y="68.2" width="18.4" height="5.6" fill="#6fce6c"/><path class="hh" d="M47.20 69.65L48.81 68.20M50.09 73.80L56.31 68.20M57.59 73.80L63.81 68.20M65.09 73.80L65.60 73.34"/><rect class="b" x="47.2" y="68.2" width="18.4" height="5.6" fill="none"/>
<text class="lg" font-size="8.6" x="72.7" y="74.1">Gyriod 10%</text>
<rect x="47.2" y="79.8" width="18.4" height="5.6" fill="#62b3f8"/><path class="hh" d="M47.20 83.95L51.81 79.80M53.09 85.40L59.31 79.80M60.59 85.40L65.60 80.89"/><rect class="b" x="47.2" y="79.8" width="18.4" height="5.6" fill="none"/>
<text class="lg" font-size="8.6" x="72.7" y="85.7">Gyriod 20%</text>
<rect x="47.2" y="91.9" width="18.4" height="5.6" fill="#f05c53"/><path class="hh" d="M47.20 93.08L48.51 91.90M49.79 97.50L56.01 91.90M57.29 97.50L63.51 91.90M64.79 97.50L65.60 96.77"/><rect class="b" x="47.2" y="91.9" width="18.4" height="5.6" fill="none"/>
<text class="lg" font-size="8.6" x="72.7" y="97.8">Gyriod 30%</text>
</g>
<g>
<text class="pl" font-size="28.9" transform="translate(3.6,406.2) scale(1.11,1)">b</text>
<text class="tk" text-anchor="end" x="34" y="754.4">0</text>
<text class="tk" text-anchor="end" x="34" y="721.66">2</text>
<text class="tk" text-anchor="end" x="34" y="688.92">4</text>
<text class="tk" text-anchor="end" x="34" y="656.18">6</text>
<text class="tk" text-anchor="end" x="34" y="623.44">8</text>
<text class="tk" text-anchor="end" x="34" y="590.7">10</text>
<text class="tk" text-anchor="end" x="34" y="557.96">12</text>
<text class="tk" text-anchor="end" x="34" y="525.22">14</text>
<text class="tk" text-anchor="end" x="34" y="492.48">16</text>
<text class="tk" text-anchor="end" x="34" y="459.74">18</text>
<text class="ax" font-size="10.5" text-anchor="middle" transform="translate(20.3,592.6) rotate(-90) scale(1.042,1)">Open Circuit Voltages (V)</text>
<text class="ax" font-size="10.3" text-anchor="middle" x="347.4" y="765.9">Trials</text>
<rect x="66.50" y="623.51" width="9.51" height="127.69" fill="#6fce6c"/>
<rect x="76.01" y="600.60" width="9.51" height="150.60" fill="#62b3f8"/>
<rect x="85.52" y="631.70" width="9.51" height="119.50" fill="#f05c53"/>
<rect x="104.55" y="531.84" width="9.51" height="219.36" fill="#6fce6c"/>
<rect x="114.06" y="576.04" width="9.51" height="175.16" fill="#62b3f8"/>
<rect x="123.57" y="590.77" width="9.51" height="160.43" fill="#f05c53"/>
<rect x="142.60" y="540.03" width="9.51" height="211.17" fill="#6fce6c"/>
<rect x="152.11" y="546.58" width="9.51" height="204.62" fill="#62b3f8"/>
<rect x="161.62" y="579.32" width="9.51" height="171.89" fill="#f05c53"/>
<rect x="180.65" y="602.23" width="9.51" height="148.97" fill="#6fce6c"/>
<rect x="190.16" y="621.88" width="9.51" height="129.32" fill="#62b3f8"/>
<rect x="199.67" y="638.25" width="9.51" height="112.95" fill="#f05c53"/>
<rect x="218.70" y="502.38" width="9.51" height="248.82" fill="#6fce6c"/>
<rect x="228.21" y="520.38" width="9.51" height="230.82" fill="#62b3f8"/>
<rect x="237.72" y="551.49" width="9.51" height="199.71" fill="#f05c53"/>
<rect x="256.75" y="508.92" width="9.51" height="242.28" fill="#6fce6c"/>
<rect x="266.26" y="495.83" width="9.51" height="255.37" fill="#62b3f8"/>
<rect x="275.77" y="564.58" width="9.51" height="186.62" fill="#f05c53"/>
<rect x="294.80" y="576.04" width="9.51" height="175.16" fill="#6fce6c"/>
<rect x="304.31" y="615.33" width="9.51" height="135.87" fill="#62b3f8"/>
<rect x="313.82" y="608.78" width="9.51" height="142.42" fill="#f05c53"/>
<rect x="332.85" y="484.37" width="9.51" height="266.83" fill="#6fce6c"/>
<rect x="342.36" y="531.84" width="9.51" height="219.36" fill="#62b3f8"/>
<rect x="351.87" y="536.75" width="9.51" height="214.45" fill="#f05c53"/>
<rect x="370.90" y="556.40" width="9.51" height="194.80" fill="#6fce6c"/>
<rect x="380.41" y="567.86" width="9.51" height="183.34" fill="#62b3f8"/>
<rect x="389.92" y="572.77" width="9.51" height="178.43" fill="#f05c53"/>
<rect x="408.95" y="448.36" width="9.51" height="302.85" fill="#6fce6c"/>
<rect x="418.46" y="590.77" width="9.51" height="160.43" fill="#62b3f8"/>
<rect x="427.97" y="512.20" width="9.51" height="239.00" fill="#f05c53"/>
<rect x="447.00" y="544.94" width="9.51" height="206.26" fill="#6fce6c"/>
<rect x="456.51" y="482.73" width="9.51" height="268.47" fill="#62b3f8"/>
<rect x="466.02" y="602.23" width="9.51" height="148.97" fill="#f05c53"/>
<rect x="485.05" y="536.75" width="9.51" height="214.45" fill="#6fce6c"/>
<rect x="494.56" y="626.79" width="9.51" height="124.41" fill="#62b3f8"/>
<rect x="504.07" y="625.15" width="9.51" height="126.05" fill="#f05c53"/>
<rect x="523.10" y="615.33" width="9.51" height="135.87" fill="#6fce6c"/>
<rect x="532.61" y="572.77" width="9.51" height="178.43" fill="#62b3f8"/>
<rect x="542.12" y="613.69" width="9.51" height="137.51" fill="#f05c53"/>
<rect x="561.15" y="466.36" width="9.51" height="284.84" fill="#6fce6c"/>
<rect x="570.66" y="553.12" width="9.51" height="198.08" fill="#62b3f8"/>
<rect x="580.17" y="546.58" width="9.51" height="204.62" fill="#f05c53"/>
<rect x="599.20" y="518.75" width="9.51" height="232.45" fill="#6fce6c"/>
<rect x="608.71" y="638.25" width="9.51" height="112.95" fill="#62b3f8"/>
<rect x="618.22" y="556.40" width="9.51" height="194.80" fill="#f05c53"/>
<path class="hh" d="M66.50 625.79L69.35 623.51M66.50 632.59L76.01 624.98M66.50 639.39L76.01 631.78M66.50 646.19L76.01 638.58M66.50 652.99L76.01 645.38M66.50 659.79L76.01 652.18M66.50 666.59L76.01 658.98M66.50 673.39L76.01 665.78M66.50 680.19L76.01 672.58M66.50 686.99L76.01 679.38M66.50 693.79L76.01 686.18M66.50 700.59L76.01 692.98M66.50 707.39L76.01 699.78M66.50 714.19L76.01 706.58M66.50 720.99L76.01 713.38M66.50 727.79L76.01 720.18M66.50 734.59L76.01 726.98M66.50 741.39L76.01 733.78M66.50 748.19L76.01 740.58M71.24 751.20L76.01 747.38M76.01 602.63L78.55 600.60M76.01 609.43L85.52 601.82M76.01 616.23L85.52 608.62M76.01 623.03L85.52 615.42M76.01 629.83L85.52 622.22M76.01 636.63L85.52 629.02M76.01 643.43L85.52 635.82M76.01 650.23L85.52 642.62M76.01 657.03L85.52 649.42M76.01 663.83L85.52 656.22M76.01 670.63L85.52 663.02M76.01 677.43L85.52 669.82M76.01 684.23L85.52 676.62M76.01 691.03L85.52 683.42M76.01 697.83L85.52 690.22M76.01 704.63L85.52 697.02M76.01 711.43L85.52 703.82M76.01 718.23L85.52 710.62M76.01 725.03L85.52 717.42M76.01 731.83L85.52 724.22M76.01 738.63L85.52 731.02M76.01 745.43L85.52 737.82M77.30 751.20L85.52 744.62M85.52 633.87L88.23 631.70M85.52 640.67L95.03 633.06M85.52 647.47L95.03 639.86M85.52 654.27L95.03 646.66M85.52 661.07L95.03 653.46M85.52 667.87L95.03 660.26M85.52 674.67L95.03 667.06M85.52 681.47L95.03 673.86M85.52 688.27L95.03 680.66M85.52 695.07L95.03 687.46M85.52 701.87L95.03 694.26M85.52 708.67L95.03 701.06M85.52 715.47L95.03 707.86M85.52 722.27L95.03 714.66M85.52 729.07L95.03 721.46M85.52 735.87L95.03 728.26M85.52 742.67L95.03 735.06M85.52 749.47L95.03 741.86M91.86 751.20L95.03 748.66M104.55 533.14L106.17 531.84M104.55 539.94L114.06 532.33M104.55 546.74L114.06 539.13M104.55 553.54L114.06 545.93M104.55 560.34L114.06 552.73M104.55 567.14L114.06 559.53M104.55 573.94L114.06 566.33M104.55 580.74L114.06 573.13M104.55 587.54L114.06 579.93M104.55 594.34L114.06 586.73M104.55 601.14L114.06 593.53M104.55 607.94L114.06 600.33M104.55 614.74L114.06 607.13M104.55 621.54L114.06 613.93M104.55 628.34L114.06 620.73M104.55 635.14L114.06 627.53M104.55 641.94L114.06 634.33M104.55 648.74L114.06 641.13M104.55 655.54L114.06 647.93M104.55 662.34L114.06 654.73M104.55 669.14L114.06 661.53M104.55 675.94L114.06 668.33M104.55 682.74L114.06 675.13M104.55 689.54L114.06 681.93M104.55 696.34L114.06 688.73M104.55 703.14L114.06 695.53M104.55 709.94L114.06 702.33M104.55 716.74L114.06 709.13M104.55 723.54L114.06 715.93M104.55 730.34L114.06 722.73M104.55 737.14L114.06 729.53M104.55 743.94L114.06 736.33M104.55 750.74L114.06 743.13M112.47 751.20L114.06 749.93M114.06 577.97L116.48 576.04M114.06 584.77L123.57 577.17M114.06 591.57L123.57 583.97M114.06 598.37L123.57 590.77M114.06 605.17L123.57 597.57M114.06 611.97L123.57 604.37M114.06 618.77L123.57 611.17M114.06 625.57L123.57 617.97M114.06 632.37L123.57 624.77M114.06 639.17L123.57 631.57M114.06 645.97L123.57 638.37M114.06 652.77L123.57 645.17M114.06 659.57L123.57 651.97M114.06 666.37L123.57 658.77M114.06 673.17L123.57 665.57M114.06 679.97L123.57 672.37M114.06 686.77L123.57 679.17M114.06 693.57L123.57 685.97M114.06 700.37L123.57 692.77M114.06 707.17L123.57 699.57M114.06 713.97L123.57 706.37M114.06 720.77L123.57 713.17M114.06 727.57L123.57 719.97M114.06 734.37L123.57 726.77M114.06 741.17L123.57 733.57M114.06 747.97L123.57 740.37M118.53 751.20L123.57 747.17M123.57 595.61L129.62 590.77M123.57 602.41L133.08 594.80M123.57 609.21L133.08 601.60M123.57 616.01L133.08 608.40M123.57 622.81L133.08 615.20M123.57 629.61L133.08 622.00M123.57 636.41L133.08 628.80M123.57 643.21L133.08 635.60M123.57 650.01L133.08 642.40M123.57 656.81L133.08 649.20M123.57 663.61L133.08 656.00M123.57 670.41L133.08 662.80M123.57 677.21L133.08 669.60M123.57 684.01L133.08 676.40M123.57 690.81L133.08 683.20M123.57 697.61L133.08 690.00M123.57 704.41L133.08 696.80M123.57 711.21L133.08 703.60M123.57 718.01L133.08 710.40M123.57 724.81L133.08 717.20M123.57 731.61L133.08 724.00M123.57 738.41L133.08 730.80M123.57 745.21L133.08 737.60M124.59 751.20L133.08 744.40M142.60 542.48L145.67 540.03M142.60 549.28L152.11 541.67M142.60 556.08L152.11 548.47M142.60 562.88L152.11 555.27M142.60 569.68L152.11 562.07M142.60 576.48L152.11 568.87M142.60 583.28L152.11 575.67M142.60 590.08L152.11 582.47M142.60 596.88L152.11 589.27M142.60 603.68L152.11 596.07M142.60 610.48L152.11 602.87M142.60 617.28L152.11 609.67M142.60 624.08L152.11 616.47M142.60 630.88L152.11 623.27M142.60 637.68L152.11 630.07M142.60 644.48L152.11 636.87M142.60 651.28L152.11 643.67M142.60 658.08L152.11 650.47M142.60 664.88L152.11 657.27M142.60 671.68L152.11 664.07M142.60 678.48L152.11 670.87M142.60 685.28L152.11 677.67M142.60 692.08L152.11 684.47M142.60 698.88L152.11 691.27M142.60 705.68L152.11 698.07M142.60 712.48L152.11 704.87M142.60 719.28L152.11 711.67M142.60 726.08L152.11 718.47M142.60 732.88L152.11 725.27M142.60 739.68L152.11 732.07M142.60 746.48L152.11 738.87M145.20 751.20L152.11 745.67M152.11 553.32L160.54 546.58M152.11 560.12L161.62 552.51M152.11 566.92L161.62 559.31M152.11 573.72L161.62 566.11M152.11 580.52L161.62 572.91M152.11 587.32L161.62 579.71M152.11 594.12L161.62 586.51M152.11 600.92L161.62 593.31M152.11 607.72L161.62 600.11M152.11 614.52L161.62 606.91M152.11 621.32L161.62 613.71M152.11 628.12L161.62 620.51M152.11 634.92L161.62 627.31M152.11 641.72L161.62 634.11M152.11 648.52L161.62 640.91M152.11 655.32L161.62 647.71M152.11 662.12L161.62 654.51M152.11 668.92L161.62 661.31M152.11 675.72L161.62 668.11M152.11 682.52L161.62 674.91M152.11 689.32L161.62 681.71M152.11 696.12L161.62 688.51M152.11 702.92L161.62 695.31M152.11 709.72L161.62 702.11M152.11 716.52L161.62 708.91M152.11 723.32L161.62 715.71M152.11 730.12L161.62 722.51M152.11 736.92L161.62 729.31M152.11 743.72L161.62 736.11M152.11 750.52L161.62 742.91M159.76 751.20L161.62 749.71M161.62 584.56L168.17 579.32M161.62 591.36L171.13 583.75M161.62 598.16L171.13 590.55M161.62 604.96L171.13 597.35M161.62 611.76L171.13 604.15M161.62 618.56L171.13 610.95M161.62 625.36L171.13 617.75M161.62 632.16L171.13 624.55M161.62 638.96L171.13 631.35M161.62 645.76L171.13 638.15M161.62 652.56L171.13 644.95M161.62 659.36L171.13 651.75M161.62 666.16L171.13 658.55M161.62 672.96L171.13 665.35M161.62 679.76L171.13 672.15M161.62 686.56L171.13 678.95M161.62 693.36L171.13 685.75M161.62 700.16L171.13 692.55M161.62 706.96L171.13 699.35M161.62 713.76L171.13 706.15M161.62 720.56L171.13 712.95M161.62 727.36L171.13 719.75M161.62 734.16L171.13 726.55M161.62 740.96L171.13 733.35M161.62 747.76L171.13 740.15M165.82 751.20L171.13 746.95M180.65 606.22L185.64 602.23M180.65 613.02L190.16 605.42M180.65 619.82L190.16 612.22M180.65 626.62L190.16 619.02M180.65 633.42L190.16 625.82M180.65 640.22L190.16 632.62M180.65 647.02L190.16 639.42M180.65 653.82L190.16 646.22M180.65 660.62L190.16 653.02M180.65 667.42L190.16 659.82M180.65 674.22L190.16 666.62M180.65 681.02L190.16 673.42M180.65 687.82L190.16 680.22M180.65 694.62L190.16 687.02M180.65 701.42L190.16 693.82M180.65 708.22L190.16 700.62M180.65 715.02L190.16 707.42M180.65 721.82L190.16 714.22M180.65 728.62L190.16 721.02M180.65 735.42L190.16 727.82M180.65 742.22L190.16 734.62M180.65 749.02L190.16 741.42M186.43 751.20L190.16 748.22M190.16 623.86L192.64 621.88M190.16 630.66L199.67 623.06M190.16 637.46L199.67 629.86M190.16 644.26L199.67 636.66M190.16 651.06L199.67 643.46M190.16 657.86L199.67 650.26M190.16 664.66L199.67 657.06M190.16 671.46L199.67 663.86M190.16 678.26L199.67 670.66M190.16 685.06L199.67 677.46M190.16 691.86L199.67 684.26M190.16 698.66L199.67 691.06M190.16 705.46L199.67 697.86M190.16 712.26L199.67 704.66M190.16 719.06L199.67 711.46M190.16 725.86L199.67 718.26M190.16 732.66L199.67 725.06M190.16 739.46L199.67 731.86M190.16 746.26L199.67 738.66M192.49 751.20L199.67 745.46M199.67 641.50L203.74 638.25M199.67 648.30L209.18 640.69M199.67 655.10L209.18 647.49M199.67 661.90L209.18 654.29M199.67 668.70L209.18 661.09M199.67 675.50L209.18 667.89M199.67 682.30L209.18 674.69M199.67 689.10L209.18 681.49M199.67 695.90L209.18 688.29M199.67 702.70L209.18 695.09M199.67 709.50L209.18 701.89M199.67 716.30L209.18 708.69M199.67 723.10L209.18 715.49M199.67 729.90L209.18 722.29M199.67 736.70L209.18 729.09M199.67 743.50L209.18 735.89M199.67 750.30L209.18 742.69M207.05 751.20L209.18 749.49M218.70 506.77L224.19 502.38M218.70 513.57L228.21 505.96M218.70 520.37L228.21 512.76M218.70 527.17L228.21 519.56M218.70 533.97L228.21 526.36M218.70 540.77L228.21 533.16M218.70 547.57L228.21 539.96M218.70 554.37L228.21 546.76M218.70 561.17L228.21 553.56M218.70 567.97L228.21 560.36M218.70 574.77L228.21 567.16M218.70 581.57L228.21 573.96M218.70 588.37L228.21 580.76M218.70 595.17L228.21 587.56M218.70 601.97L228.21 594.36M218.70 608.77L228.21 601.16M218.70 615.57L228.21 607.96M218.70 622.37L228.21 614.76M218.70 629.17L228.21 621.56M218.70 635.97L228.21 628.36M218.70 642.77L228.21 635.16M218.70 649.57L228.21 641.96M218.70 656.37L228.21 648.76M218.70 663.17L228.21 655.56M218.70 669.97L228.21 662.36M218.70 676.77L228.21 669.16M218.70 683.57L228.21 675.96M218.70 690.37L228.21 682.76M218.70 697.17L228.21 689.56M218.70 703.97L228.21 696.36M218.70 710.77L228.21 703.16M218.70 717.57L228.21 709.96M218.70 724.37L228.21 716.76M218.70 731.17L228.21 723.56M218.70 737.97L228.21 730.36M218.70 744.77L228.21 737.16M219.16 751.20L228.21 743.96M227.66 751.20L228.21 750.76M228.21 524.41L233.24 520.38M228.21 531.21L237.72 523.60M228.21 538.01L237.72 530.40M228.21 544.81L237.72 537.20M228.21 551.61L237.72 544.00M228.21 558.41L237.72 550.80M228.21 565.21L237.72 557.60M228.21 572.01L237.72 564.40M228.21 578.81L237.72 571.20M228.21 585.61L237.72 578.00M228.21 592.41L237.72 584.80M228.21 599.21L237.72 591.60M228.21 606.01L237.72 598.40M228.21 612.81L237.72 605.20M228.21 619.61L237.72 612.00M228.21 626.41L237.72 618.80M228.21 633.21L237.72 625.60M228.21 640.01L237.72 632.40M228.21 646.81L237.72 639.20M228.21 653.61L237.72 646.00M228.21 660.41L237.72 652.80M228.21 667.21L237.72 659.60M228.21 674.01L237.72 666.40M228.21 680.81L237.72 673.20M228.21 687.61L237.72 680.00M228.21 694.41L237.72 686.80M228.21 701.21L237.72 693.60M228.21 708.01L237.72 700.40M228.21 714.81L237.72 707.20M228.21 721.61L237.72 714.00M228.21 728.41L237.72 720.80M228.21 735.21L237.72 727.60M228.21 742.01L237.72 734.40M228.21 748.81L237.72 741.20M233.72 751.20L237.72 748.00M237.72 555.65L242.92 551.49M237.72 562.45L247.23 554.84M237.72 569.25L247.23 561.64M237.72 576.05L247.23 568.44M237.72 582.85L247.23 575.24M237.72 589.65L247.23 582.04M237.72 596.45L247.23 588.84M237.72 603.25L247.23 595.64M237.72 610.05L247.23 602.44M237.72 616.85L247.23 609.24M237.72 623.65L247.23 616.04M237.72 630.45L247.23 622.84M237.72 637.25L247.23 629.64M237.72 644.05L247.23 636.44M237.72 650.85L247.23 643.24M237.72 657.65L247.23 650.04M237.72 664.45L247.23 656.84M237.72 671.25L247.23 663.64M237.72 678.05L247.23 670.44M237.72 684.85L247.23 677.24M237.72 691.65L247.23 684.04M237.72 698.45L247.23 690.84M237.72 705.25L247.23 697.64M237.72 712.05L247.23 704.44M237.72 718.85L247.23 711.24M237.72 725.65L247.23 718.04M237.72 732.45L247.23 724.84M237.72 739.25L247.23 731.64M237.72 746.05L247.23 738.44M239.78 751.20L247.23 745.24M256.75 509.31L257.24 508.92M256.75 516.11L265.74 508.92M256.75 522.91L266.26 515.31M256.75 529.71L266.26 522.11M256.75 536.51L266.26 528.91M256.75 543.31L266.26 535.71M256.75 550.11L266.26 542.51M256.75 556.91L266.26 549.31M256.75 563.71L266.26 556.11M256.75 570.51L266.26 562.91M256.75 577.31L266.26 569.71M256.75 584.11L266.26 576.51M256.75 590.91L266.26 583.31M256.75 597.71L266.26 590.11M256.75 604.51L266.26 596.91M256.75 611.31L266.26 603.71M256.75 618.11L266.26 610.51M256.75 624.91L266.26 617.31M256.75 631.71L266.26 624.11M256.75 638.51L266.26 630.91M256.75 645.31L266.26 637.71M256.75 652.11L266.26 644.51M256.75 658.91L266.26 651.31M256.75 665.71L266.26 658.11M256.75 672.51L266.26 664.91M256.75 679.31L266.26 671.71M256.75 686.11L266.26 678.51M256.75 692.91L266.26 685.31M256.75 699.71L266.26 692.11M256.75 706.51L266.26 698.91M256.75 713.31L266.26 705.71M256.75 720.11L266.26 712.51M256.75 726.91L266.26 719.31M256.75 733.71L266.26 726.11M256.75 740.51L266.26 732.91M256.75 747.31L266.26 739.71M260.39 751.20L266.26 746.51M266.26 499.75L271.17 495.83M266.26 506.55L275.77 498.94M266.26 513.35L275.77 505.74M266.26 520.15L275.77 512.54M266.26 526.95L275.77 519.34M266.26 533.75L275.77 526.14M266.26 540.55L275.77 532.94M266.26 547.35L275.77 539.74M266.26 554.15L275.77 546.54M266.26 560.95L275.77 553.34M266.26 567.75L275.77 560.14M266.26 574.55L275.77 566.94M266.26 581.35L275.77 573.74M266.26 588.15L275.77 580.54M266.26 594.95L275.77 587.34M266.26 601.75L275.77 594.14M266.26 608.55L275.77 600.94M266.26 615.35L275.77 607.74M266.26 622.15L275.77 614.54M266.26 628.95L275.77 621.34M266.26 635.75L275.77 628.14M266.26 642.55L275.77 634.94M266.26 649.35L275.77 641.74M266.26 656.15L275.77 648.54M266.26 662.95L275.77 655.34M266.26 669.75L275.77 662.14M266.26 676.55L275.77 668.94M266.26 683.35L275.77 675.74M266.26 690.15L275.77 682.54M266.26 696.95L275.77 689.34M266.26 703.75L275.77 696.14M266.26 710.55L275.77 702.94M266.26 717.35L275.77 709.74M266.26 724.15L275.77 716.54M266.26 730.95L275.77 723.34M266.26 737.75L275.77 730.14M266.26 744.55L275.77 736.94M266.45 751.20L275.77 743.74M274.95 751.20L275.77 750.54M275.77 564.99L276.28 564.58M275.77 571.79L284.78 564.58M275.77 578.59L285.28 570.98M275.77 585.39L285.28 577.78M275.77 592.19L285.28 584.58M275.77 598.99L285.28 591.38M275.77 605.79L285.28 598.18M275.77 612.59L285.28 604.98M275.77 619.39L285.28 611.78M275.77 626.19L285.28 618.58M275.77 632.99L285.28 625.38M275.77 639.79L285.28 632.18M275.77 646.59L285.28 638.98M275.77 653.39L285.28 645.78M275.77 660.19L285.28 652.58M275.77 666.99L285.28 659.38M275.77 673.79L285.28 666.18M275.77 680.59L285.28 672.98M275.77 687.39L285.28 679.78M275.77 694.19L285.28 686.58M275.77 700.99L285.28 693.38M275.77 707.79L285.28 700.18M275.77 714.59L285.28 706.98M275.77 721.39L285.28 713.78M275.77 728.19L285.28 720.58M275.77 734.99L285.28 727.38M275.77 741.79L285.28 734.18M275.77 748.59L285.28 740.98M281.01 751.20L285.28 747.78M294.80 579.86L299.57 576.04M294.80 586.66L304.31 579.05M294.80 593.46L304.31 585.85M294.80 600.26L304.31 592.65M294.80 607.06L304.31 599.45M294.80 613.86L304.31 606.25M294.80 620.66L304.31 613.05M294.80 627.46L304.31 619.85M294.80 634.26L304.31 626.65M294.80 641.06L304.31 633.45M294.80 647.86L304.31 640.25M294.80 654.66L304.31 647.05M294.80 661.46L304.31 653.85M294.80 668.26L304.31 660.65M294.80 675.06L304.31 667.45M294.80 681.86L304.31 674.25M294.80 688.66L304.31 681.05M294.80 695.46L304.31 687.85M294.80 702.26L304.31 694.65M294.80 709.06L304.31 701.45M294.80 715.86L304.31 708.25M294.80 722.66L304.31 715.05M294.80 729.46L304.31 721.85M294.80 736.26L304.31 728.65M294.80 743.06L304.31 735.45M294.80 749.86L304.31 742.25M301.62 751.20L304.31 749.05M304.31 617.90L307.52 615.33M304.31 624.70L313.82 617.09M304.31 631.50L313.82 623.89M304.31 638.30L313.82 630.69M304.31 645.10L313.82 637.49M304.31 651.90L313.82 644.29M304.31 658.70L313.82 651.09M304.31 665.50L313.82 657.89M304.31 672.30L313.82 664.69M304.31 679.10L313.82 671.49M304.31 685.90L313.82 678.29M304.31 692.70L313.82 685.09M304.31 699.50L313.82 691.89M304.31 706.30L313.82 698.69M304.31 713.10L313.82 705.49M304.31 719.90L313.82 712.29M304.31 726.70L313.82 719.09M304.31 733.50L313.82 725.89M304.31 740.30L313.82 732.69M304.31 747.10L313.82 739.49M307.68 751.20L313.82 746.29M313.82 615.14L321.76 608.78M313.82 621.94L323.33 614.33M313.82 628.74L323.33 621.13M313.82 635.54L323.33 627.93M313.82 642.34L323.33 634.73M313.82 649.14L323.33 641.53M313.82 655.94L323.33 648.33M313.82 662.74L323.33 655.13M313.82 669.54L323.33 661.93M313.82 676.34L323.33 668.73M313.82 683.14L323.33 675.53M313.82 689.94L323.33 682.33M313.82 696.74L323.33 689.13M313.82 703.54L323.33 695.93M313.82 710.34L323.33 702.73M313.82 717.14L323.33 709.53M313.82 723.94L323.33 716.33M313.82 730.74L323.33 723.13M313.82 737.54L323.33 729.93M313.82 744.34L323.33 736.73M313.82 751.14L323.33 743.53M322.24 751.20L323.33 750.33M332.85 487.20L336.39 484.37M332.85 494.00L342.36 486.39M332.85 500.80L342.36 493.19M332.85 507.60L342.36 499.99M332.85 514.40L342.36 506.79M332.85 521.20L342.36 513.59M332.85 528.00L342.36 520.39M332.85 534.80L342.36 527.19M332.85 541.60L342.36 533.99M332.85 548.40L342.36 540.79M332.85 555.20L342.36 547.59M332.85 562.00L342.36 554.39M332.85 568.80L342.36 561.19M332.85 575.60L342.36 567.99M332.85 582.40L342.36 574.79M332.85 589.20L342.36 581.59M332.85 596.00L342.36 588.39M332.85 602.80L342.36 595.19M332.85 609.60L342.36 601.99M332.85 616.40L342.36 608.79M332.85 623.20L342.36 615.59M332.85 630.00L342.36 622.39M332.85 636.80L342.36 629.19M332.85 643.60L342.36 635.99M332.85 650.40L342.36 642.79M332.85 657.20L342.36 649.59M332.85 664.00L342.36 656.39M332.85 670.80L342.36 663.19M332.85 677.60L342.36 669.99M332.85 684.40L342.36 676.79M332.85 691.20L342.36 683.59M332.85 698.00L342.36 690.39M332.85 704.80L342.36 697.19M332.85 711.60L342.36 703.99M332.85 718.40L342.36 710.79M332.85 725.20L342.36 717.59M332.85 732.00L342.36 724.39M332.85 738.80L342.36 731.19M332.85 745.60L342.36 737.99M334.35 751.20L342.36 744.79M342.36 538.84L351.11 531.84M342.36 545.64L351.87 538.03M342.36 552.44L351.87 544.83M342.36 559.24L351.87 551.63M342.36 566.04L351.87 558.43M342.36 572.84L351.87 565.23M342.36 579.64L351.87 572.03M342.36 586.44L351.87 578.83M342.36 593.24L351.87 585.63M342.36 600.04L351.87 592.43M342.36 606.84L351.87 599.23M342.36 613.64L351.87 606.03M342.36 620.44L351.87 612.83M342.36 627.24L351.87 619.63M342.36 634.04L351.87 626.43M342.36 640.84L351.87 633.23M342.36 647.64L351.87 640.03M342.36 654.44L351.87 646.83M342.36 661.24L351.87 653.63M342.36 668.04L351.87 660.43M342.36 674.84L351.87 667.23M342.36 681.64L351.87 674.03M342.36 688.44L351.87 680.83M342.36 695.24L351.87 687.63M342.36 702.04L351.87 694.43M342.36 708.84L351.87 701.23M342.36 715.64L351.87 708.03M342.36 722.44L351.87 714.83M342.36 729.24L351.87 721.63M342.36 736.04L351.87 728.43M342.36 742.84L351.87 735.23M342.36 749.64L351.87 742.03M348.91 751.20L351.87 748.83M351.87 542.88L359.53 536.75M351.87 549.68L361.38 542.07M351.87 556.48L361.38 548.87M351.87 563.28L361.38 555.67M351.87 570.08L361.38 562.47M351.87 576.88L361.38 569.27M351.87 583.68L361.38 576.07M351.87 590.48L361.38 582.87M351.87 597.28L361.38 589.67M351.87 604.08L361.38 596.47M351.87 610.88L361.38 603.27M351.87 617.68L361.38 610.07M351.87 624.48L361.38 616.87M351.87 631.28L361.38 623.67M351.87 638.08L361.38 630.47M351.87 644.88L361.38 637.27M351.87 651.68L361.38 644.07M351.87 658.48L361.38 650.87M351.87 665.28L361.38 657.67M351.87 672.08L361.38 664.47M351.87 678.88L361.38 671.27M351.87 685.68L361.38 678.07M351.87 692.48L361.38 684.87M351.87 699.28L361.38 691.67M351.87 706.08L361.38 698.47M351.87 712.88L361.38 705.27M351.87 719.68L361.38 712.07M351.87 726.48L361.38 718.87M351.87 733.28L361.38 725.67M351.87 740.08L361.38 732.47M351.87 746.88L361.38 739.27M354.97 751.20L361.38 746.07M370.90 557.75L372.59 556.40M370.90 564.55L380.41 556.94M370.90 571.35L380.41 563.74M370.90 578.15L380.41 570.54M370.90 584.95L380.41 577.34M370.90 591.75L380.41 584.14M370.90 598.55L380.41 590.94M370.90 605.35L380.41 597.74M370.90 612.15L380.41 604.54M370.90 618.95L380.41 611.34M370.90 625.75L380.41 618.14M370.90 632.55L380.41 624.94M370.90 639.35L380.41 631.74M370.90 646.15L380.41 638.54M370.90 652.95L380.41 645.34M370.90 659.75L380.41 652.14M370.90 666.55L380.41 658.94M370.90 673.35L380.41 665.74M370.90 680.15L380.41 672.54M370.90 686.95L380.41 679.34M370.90 693.75L380.41 686.14M370.90 700.55L380.41 692.94M370.90 707.35L380.41 699.74M370.90 714.15L380.41 706.54M370.90 720.95L380.41 713.34M370.90 727.75L380.41 720.14M370.90 734.55L380.41 726.94M370.90 741.35L380.41 733.74M370.90 748.15L380.41 740.54M375.58 751.20L380.41 747.34M380.41 568.59L381.32 567.86M380.41 575.39L389.82 567.86M380.41 582.19L389.92 574.58M380.41 588.99L389.92 581.38M380.41 595.79L389.92 588.18M380.41 602.59L389.92 594.98M380.41 609.39L389.92 601.78M380.41 616.19L389.92 608.58M380.41 622.99L389.92 615.38M380.41 629.79L389.92 622.18M380.41 636.59L389.92 628.98M380.41 643.39L389.92 635.78M380.41 650.19L389.92 642.58M380.41 656.99L389.92 649.38M380.41 663.79L389.92 656.18M380.41 670.59L389.92 662.98M380.41 677.39L389.92 669.78M380.41 684.19L389.92 676.58M380.41 690.99L389.92 683.38M380.41 697.79L389.92 690.18M380.41 704.59L389.92 696.98M380.41 711.39L389.92 703.78M380.41 718.19L389.92 710.58M380.41 724.99L389.92 717.38M380.41 731.79L389.92 724.18M380.41 738.59L389.92 730.98M380.41 745.39L389.92 737.78M381.64 751.20L389.92 744.58M389.92 579.42L398.24 572.77M389.92 586.22L399.43 578.62M389.92 593.02L399.43 585.42M389.92 599.82L399.43 592.22M389.92 606.62L399.43 599.02M389.92 613.42L399.43 605.82M389.92 620.22L399.43 612.62M389.92 627.02L399.43 619.42M389.92 633.82L399.43 626.22M389.92 640.62L399.43 633.02M389.92 647.42L399.43 639.82M389.92 654.22L399.43 646.62M389.92 661.02L399.43 653.42M389.92 667.82L399.43 660.22M389.92 674.62L399.43 667.02M389.92 681.42L399.43 673.82M389.92 688.22L399.43 680.62M389.92 695.02L399.43 687.42M389.92 701.82L399.43 694.22M389.92 708.62L399.43 701.02M389.92 715.42L399.43 707.82M389.92 722.22L399.43 714.62M389.92 729.02L399.43 721.42M389.92 735.82L399.43 728.22M389.92 742.62L399.43 735.02M389.92 749.42L399.43 741.82M396.20 751.20L399.43 748.62M408.95 451.49L412.87 448.36M408.95 458.29L418.46 450.68M408.95 465.09L418.46 457.48M408.95 471.89L418.46 464.28M408.95 478.69L418.46 471.08M408.95 485.49L418.46 477.88M408.95 492.29L418.46 484.68M408.95 499.09L418.46 491.48M408.95 505.89L418.46 498.28M408.95 512.69L418.46 505.08M408.95 519.49L418.46 511.88M408.95 526.29L418.46 518.68M408.95 533.09L418.46 525.48M408.95 539.89L418.46 532.28M408.95 546.69L418.46 539.08M408.95 553.49L418.46 545.88M408.95 560.29L418.46 552.68M408.95 567.09L418.46 559.48M408.95 573.89L418.46 566.28M408.95 580.69L418.46 573.08M408.95 587.49L418.46 579.88M408.95 594.29L418.46 586.68M408.95 601.09L418.46 593.48M408.95 607.89L418.46 600.28M408.95 614.69L418.46 607.08M408.95 621.49L418.46 613.88M408.95 628.29L418.46 620.68M408.95 635.09L418.46 627.48M408.95 641.89L418.46 634.28M408.95 648.69L418.46 641.08M408.95 655.49L418.46 647.88M408.95 662.29L418.46 654.68M408.95 669.09L418.46 661.48M408.95 675.89L418.46 668.28M408.95 682.69L418.46 675.08M408.95 689.49L418.46 681.88M408.95 696.29L418.46 688.68M408.95 703.09L418.46 695.48M408.95 709.89L418.46 702.28M408.95 716.69L418.46 709.08M408.95 723.49L418.46 715.88M408.95 730.29L418.46 722.68M408.95 737.09L418.46 729.48M408.95 743.89L418.46 736.28M408.95 750.69L418.46 743.08M416.81 751.20L418.46 749.88M418.46 591.53L419.41 590.77M418.46 598.33L427.91 590.77M418.46 605.13L427.97 597.52M418.46 611.93L427.97 604.32M418.46 618.73L427.97 611.12M418.46 625.53L427.97 617.92M418.46 632.33L427.97 624.72M418.46 639.13L427.97 631.52M418.46 645.93L427.97 638.32M418.46 652.73L427.97 645.12M418.46 659.53L427.97 651.92M418.46 666.33L427.97 658.72M418.46 673.13L427.97 665.52M418.46 679.93L427.97 672.32M418.46 686.73L427.97 679.12M418.46 693.53L427.97 685.92M418.46 700.33L427.97 692.72M418.46 707.13L427.97 699.52M418.46 713.93L427.97 706.32M418.46 720.73L427.97 713.12M418.46 727.53L427.97 719.92M418.46 734.33L427.97 726.72M418.46 741.13L427.97 733.52M418.46 747.93L427.97 740.32M422.87 751.20L427.97 747.12M427.97 513.97L430.18 512.20M427.97 520.77L437.48 513.16M427.97 527.57L437.48 519.96M427.97 534.37L437.48 526.76M427.97 541.17L437.48 533.56M427.97 547.97L437.48 540.36M427.97 554.77L437.48 547.16M427.97 561.57L437.48 553.96M427.97 568.37L437.48 560.76M427.97 575.17L437.48 567.56M427.97 581.97L437.48 574.36M427.97 588.77L437.48 581.16M427.97 595.57L437.48 587.96M427.97 602.37L437.48 594.76M427.97 609.17L437.48 601.56M427.97 615.97L437.48 608.36M427.97 622.77L437.48 615.16M427.97 629.57L437.48 621.96M427.97 636.37L437.48 628.76M427.97 643.17L437.48 635.56M427.97 649.97L437.48 642.36M427.97 656.77L437.48 649.16M427.97 663.57L437.48 655.96M427.97 670.37L437.48 662.76M427.97 677.17L437.48 669.56M427.97 683.97L437.48 676.36M427.97 690.77L437.48 683.16M427.97 697.57L437.48 689.96M427.97 704.37L437.48 696.76M427.97 711.17L437.48 703.56M427.97 717.97L437.48 710.36M427.97 724.77L437.48 717.16M427.97 731.57L437.48 723.96M427.97 738.37L437.48 730.76M427.97 745.17L437.48 737.56M428.93 751.20L437.48 744.36M447.00 549.24L452.37 544.94M447.00 556.04L456.51 548.43M447.00 562.84L456.51 555.23M447.00 569.64L456.51 562.03M447.00 576.44L456.51 568.83M447.00 583.24L456.51 575.63M447.00 590.04L456.51 582.43M447.00 596.84L456.51 589.23M447.00 603.64L456.51 596.03M447.00 610.44L456.51 602.83M447.00 617.24L456.51 609.63M447.00 624.04L456.51 616.43M447.00 630.84L456.51 623.23M447.00 637.64L456.51 630.03M447.00 644.44L456.51 636.83M447.00 651.24L456.51 643.63M447.00 658.04L456.51 650.43M447.00 664.84L456.51 657.23M447.00 671.64L456.51 664.03M447.00 678.44L456.51 670.83M447.00 685.24L456.51 677.63M447.00 692.04L456.51 684.43M447.00 698.84L456.51 691.23M447.00 705.64L456.51 698.03M447.00 712.44L456.51 704.83M447.00 719.24L456.51 711.63M447.00 726.04L456.51 718.43M447.00 732.84L456.51 725.23M447.00 739.64L456.51 732.03M447.00 746.44L456.51 738.83M449.55 751.20L456.51 745.63M456.51 485.27L459.69 482.73M456.51 492.07L466.02 484.47M456.51 498.87L466.02 491.27M456.51 505.67L466.02 498.07M456.51 512.47L466.02 504.87M456.51 519.27L466.02 511.67M456.51 526.07L466.02 518.47M456.51 532.87L466.02 525.27M456.51 539.67L466.02 532.07M456.51 546.47L466.02 538.87M456.51 553.27L466.02 545.67M456.51 560.07L466.02 552.47M456.51 566.87L466.02 559.27M456.51 573.67L466.02 566.07M456.51 580.47L466.02 572.87M456.51 587.27L466.02 579.67M456.51 594.07L466.02 586.47M456.51 600.87L466.02 593.27M456.51 607.67L466.02 600.07M456.51 614.47L466.02 606.87M456.51 621.27L466.02 613.67M456.51 628.07L466.02 620.47M456.51 634.87L466.02 627.27M456.51 641.67L466.02 634.07M456.51 648.47L466.02 640.87M456.51 655.27L466.02 647.67M456.51 662.07L466.02 654.47M456.51 668.87L466.02 661.27M456.51 675.67L466.02 668.07M456.51 682.47L466.02 674.87M456.51 689.27L466.02 681.67M456.51 696.07L466.02 688.47M456.51 702.87L466.02 695.27M456.51 709.67L466.02 702.07M456.51 716.47L466.02 708.87M456.51 723.27L466.02 715.67M456.51 730.07L466.02 722.47M456.51 736.87L466.02 729.27M456.51 743.67L466.02 736.07M456.51 750.47L466.02 742.87M464.10 751.20L466.02 749.67M466.02 604.91L469.37 602.23M466.02 611.71L475.53 604.11M466.02 618.51L475.53 610.91M466.02 625.31L475.53 617.71M466.02 632.11L475.53 624.51M466.02 638.91L475.53 631.31M466.02 645.71L475.53 638.11M466.02 652.51L475.53 644.91M466.02 659.31L475.53 651.71M466.02 666.11L475.53 658.51M466.02 672.91L475.53 665.31M466.02 679.71L475.53 672.11M466.02 686.51L475.53 678.91M466.02 693.31L475.53 685.71M466.02 700.11L475.53 692.51M466.02 706.91L475.53 699.31M466.02 713.71L475.53 706.11M466.02 720.51L475.53 712.91M466.02 727.31L475.53 719.71M466.02 734.11L475.53 726.51M466.02 740.91L475.53 733.31M466.02 747.71L475.53 740.11M470.16 751.20L475.53 746.91M485.05 538.18L486.83 536.75M485.05 544.98L494.56 537.37M485.05 551.78L494.56 544.17M485.05 558.58L494.56 550.97M485.05 565.38L494.56 557.77M485.05 572.18L494.56 564.57M485.05 578.98L494.56 571.37M485.05 585.78L494.56 578.17M485.05 592.58L494.56 584.97M485.05 599.38L494.56 591.77M485.05 606.18L494.56 598.57M485.05 612.98L494.56 605.37M485.05 619.78L494.56 612.17M485.05 626.58L494.56 618.97M485.05 633.38L494.56 625.77M485.05 640.18L494.56 632.57M485.05 646.98L494.56 639.37M485.05 653.78L494.56 646.17M485.05 660.58L494.56 652.97M485.05 667.38L494.56 659.77M485.05 674.18L494.56 666.57M485.05 680.98L494.56 673.37M485.05 687.78L494.56 680.17M485.05 694.58L494.56 686.97M485.05 701.38L494.56 693.77M485.05 708.18L494.56 700.57M485.05 714.98L494.56 707.37M485.05 721.78L494.56 714.17M485.05 728.58L494.56 720.97M485.05 735.38L494.56 727.77M485.05 742.18L494.56 734.57M485.05 748.98L494.56 741.37M490.78 751.20L494.56 748.17M494.56 630.62L499.35 626.79M494.56 637.42L504.07 629.81M494.56 644.22L504.07 636.61M494.56 651.02L504.07 643.41M494.56 657.82L504.07 650.21M494.56 664.62L504.07 657.01M494.56 671.42L504.07 663.81M494.56 678.22L504.07 670.61M494.56 685.02L504.07 677.41M494.56 691.82L504.07 684.21M494.56 698.62L504.07 691.01M494.56 705.42L504.07 697.81M494.56 712.22L504.07 704.61M494.56 719.02L504.07 711.41M494.56 725.82L504.07 718.21M494.56 732.62L504.07 725.01M494.56 739.42L504.07 731.81M494.56 746.22L504.07 738.61M496.83 751.20L504.07 745.41M504.07 627.86L507.45 625.15M504.07 634.66L513.58 627.05M504.07 641.46L513.58 633.85M504.07 648.26L513.58 640.65M504.07 655.06L513.58 647.45M504.07 661.86L513.58 654.25M504.07 668.66L513.58 661.05M504.07 675.46L513.58 667.85M504.07 682.26L513.58 674.65M504.07 689.06L513.58 681.45M504.07 695.86L513.58 688.25M504.07 702.66L513.58 695.05M504.07 709.46L513.58 701.85M504.07 716.26L513.58 708.65M504.07 723.06L513.58 715.45M504.07 729.86L513.58 722.25M504.07 736.66L513.58 729.05M504.07 743.46L513.58 735.85M504.07 750.26L513.58 742.65M511.39 751.20L513.58 749.45M523.10 622.33L531.85 615.33M523.10 629.13L532.61 621.52M523.10 635.93L532.61 628.32M523.10 642.73L532.61 635.12M523.10 649.53L532.61 641.92M523.10 656.33L532.61 648.72M523.10 663.13L532.61 655.52M523.10 669.93L532.61 662.32M523.10 676.73L532.61 669.12M523.10 683.53L532.61 675.92M523.10 690.33L532.61 682.72M523.10 697.13L532.61 689.52M523.10 703.93L532.61 696.32M523.10 710.73L532.61 703.12M523.10 717.53L532.61 709.92M523.10 724.33L532.61 716.72M523.10 731.13L532.61 723.52M523.10 737.93L532.61 730.32M523.10 744.73L532.61 737.12M523.51 751.20L532.61 743.92M532.01 751.20L532.61 750.72M532.61 578.76L540.11 572.77M532.61 585.56L542.12 577.96M532.61 592.36L542.12 584.76M532.61 599.16L542.12 591.56M532.61 605.96L542.12 598.36M532.61 612.76L542.12 605.16M532.61 619.56L542.12 611.96M532.61 626.36L542.12 618.76M532.61 633.16L542.12 625.56M532.61 639.96L542.12 632.36M532.61 646.76L542.12 639.16M532.61 653.56L542.12 645.96M532.61 660.36L542.12 652.76M532.61 667.16L542.12 659.56M532.61 673.96L542.12 666.36M532.61 680.76L542.12 673.16M532.61 687.56L542.12 679.96M532.61 694.36L542.12 686.76M532.61 701.16L542.12 693.56M532.61 707.96L542.12 700.36M532.61 714.76L542.12 707.16M532.61 721.56L542.12 713.96M532.61 728.36L542.12 720.76M532.61 735.16L542.12 727.56M532.61 741.96L542.12 734.36M532.61 748.76L542.12 741.16M538.06 751.20L542.12 747.96M542.12 616.80L546.01 613.69M542.12 623.60L551.63 615.99M542.12 630.40L551.63 622.79M542.12 637.20L551.63 629.59M542.12 644.00L551.63 636.39M542.12 650.80L551.63 643.19M542.12 657.60L551.63 649.99M542.12 664.40L551.63 656.79M542.12 671.20L551.63 663.59M542.12 678.00L551.63 670.39M542.12 684.80L551.63 677.19M542.12 691.60L551.63 683.99M542.12 698.40L551.63 690.79M542.12 705.20L551.63 697.59M542.12 712.00L551.63 704.39M542.12 718.80L551.63 711.19M542.12 725.60L551.63 717.99M542.12 732.40L551.63 724.79M542.12 739.20L551.63 731.59M542.12 746.00L551.63 738.39M544.12 751.20L551.63 745.19M561.15 468.47L563.78 466.36M561.15 475.27L570.66 467.66M561.15 482.07L570.66 474.46M561.15 488.87L570.66 481.26M561.15 495.67L570.66 488.06M561.15 502.47L570.66 494.86M561.15 509.27L570.66 501.66M561.15 516.07L570.66 508.46M561.15 522.87L570.66 515.26M561.15 529.67L570.66 522.06M561.15 536.47L570.66 528.86M561.15 543.27L570.66 535.66M561.15 550.07L570.66 542.46M561.15 556.87L570.66 549.26M561.15 563.67L570.66 556.06M561.15 570.47L570.66 562.86M561.15 577.27L570.66 569.66M561.15 584.07L570.66 576.46M561.15 590.87L570.66 583.26M561.15 597.67L570.66 590.06M561.15 604.47L570.66 596.86M561.15 611.27L570.66 603.66M561.15 618.07L570.66 610.46M561.15 624.87L570.66 617.26M561.15 631.67L570.66 624.06M561.15 638.47L570.66 630.86M561.15 645.27L570.66 637.66M561.15 652.07L570.66 644.46M561.15 658.87L570.66 651.26M561.15 665.67L570.66 658.06M561.15 672.47L570.66 664.86M561.15 679.27L570.66 671.66M561.15 686.07L570.66 678.46M561.15 692.87L570.66 685.26M561.15 699.67L570.66 692.06M561.15 706.47L570.66 698.86M561.15 713.27L570.66 705.66M561.15 720.07L570.66 712.46M561.15 726.87L570.66 719.26M561.15 733.67L570.66 726.06M561.15 740.47L570.66 732.86M561.15 747.27L570.66 739.66M564.74 751.20L570.66 746.46M570.66 554.11L571.89 553.12M570.66 560.91L580.17 553.30M570.66 567.71L580.17 560.10M570.66 574.51L580.17 566.90M570.66 581.31L580.17 573.70M570.66 588.11L580.17 580.50M570.66 594.91L580.17 587.30M570.66 601.71L580.17 594.10M570.66 608.51L580.17 600.90M570.66 615.31L580.17 607.70M570.66 622.11L580.17 614.50M570.66 628.91L580.17 621.30M570.66 635.71L580.17 628.10M570.66 642.51L580.17 634.90M570.66 649.31L580.17 641.70M570.66 656.11L580.17 648.50M570.66 662.91L580.17 655.30M570.66 669.71L580.17 662.10M570.66 676.51L580.17 668.90M570.66 683.31L580.17 675.70M570.66 690.11L580.17 682.50M570.66 696.91L580.17 689.30M570.66 703.71L580.17 696.10M570.66 710.51L580.17 702.90M570.66 717.31L580.17 709.70M570.66 724.11L580.17 716.50M570.66 730.91L580.17 723.30M570.66 737.71L580.17 730.10M570.66 744.51L580.17 736.90M570.80 751.20L580.17 743.70M579.30 751.20L580.17 750.50M580.17 551.35L586.14 546.58M580.17 558.15L589.68 550.54M580.17 564.95L589.68 557.34M580.17 571.75L589.68 564.14M580.17 578.55L589.68 570.94M580.17 585.35L589.68 577.74M580.17 592.15L589.68 584.54M580.17 598.95L589.68 591.34M580.17 605.75L589.68 598.14M580.17 612.55L589.68 604.94M580.17 619.35L589.68 611.74M580.17 626.15L589.68 618.54M580.17 632.95L589.68 625.34M580.17 639.75L589.68 632.14M580.17 646.55L589.68 638.94M580.17 653.35L589.68 645.74M580.17 660.15L589.68 652.54M580.17 666.95L589.68 659.34M580.17 673.75L589.68 666.14M580.17 680.55L589.68 672.94M580.17 687.35L589.68 679.74M580.17 694.15L589.68 686.54M580.17 700.95L589.68 693.34M580.17 707.75L589.68 700.14M580.17 714.55L589.68 706.94M580.17 721.35L589.68 713.74M580.17 728.15L589.68 720.54M580.17 734.95L589.68 727.34M580.17 741.75L589.68 734.14M580.17 748.55L589.68 740.94M585.35 751.20L589.68 747.74M599.20 525.41L607.54 518.75M599.20 532.21L608.71 524.61M599.20 539.01L608.71 531.41M599.20 545.81L608.71 538.21M599.20 552.61L608.71 545.01M599.20 559.41L608.71 551.81M599.20 566.21L608.71 558.61M599.20 573.01L608.71 565.41M599.20 579.81L608.71 572.21M599.20 586.61L608.71 579.01M599.20 593.41L608.71 585.81M599.20 600.21L608.71 592.61M599.20 607.01L608.71 599.41M599.20 613.81L608.71 606.21M599.20 620.61L608.71 613.01M599.20 627.41L608.71 619.81M599.20 634.21L608.71 626.61M599.20 641.01L608.71 633.41M599.20 647.81L608.71 640.21M599.20 654.61L608.71 647.01M599.20 661.41L608.71 653.81M599.20 668.21L608.71 660.61M599.20 675.01L608.71 667.41M599.20 681.81L608.71 674.21M599.20 688.61L608.71 681.01M599.20 695.41L608.71 687.81M599.20 702.21L608.71 694.61M599.20 709.01L608.71 701.41M599.20 715.81L608.71 708.21M599.20 722.61L608.71 715.01M599.20 729.41L608.71 721.81M599.20 736.21L608.71 728.61M599.20 743.01L608.71 735.41M599.20 749.81L608.71 742.21M605.97 751.20L608.71 749.01M608.71 645.05L617.22 638.25M608.71 651.85L618.22 644.24M608.71 658.65L618.22 651.04M608.71 665.45L618.22 657.84M608.71 672.25L618.22 664.64M608.71 679.05L618.22 671.44M608.71 685.85L618.22 678.24M608.71 692.65L618.22 685.04M608.71 699.45L618.22 691.84M608.71 706.25L618.22 698.64M608.71 713.05L618.22 705.44M608.71 719.85L618.22 712.24M608.71 726.65L618.22 719.04M608.71 733.45L618.22 725.84M608.71 740.25L618.22 732.64M608.71 747.05L618.22 739.44M612.03 751.20L618.22 746.24M618.22 560.69L623.59 556.40M618.22 567.49L627.73 559.88M618.22 574.29L627.73 566.68M618.22 581.09L627.73 573.48M618.22 587.89L627.73 580.28M618.22 594.69L627.73 587.08M618.22 601.49L627.73 593.88M618.22 608.29L627.73 600.68M618.22 615.09L627.73 607.48M618.22 621.89L627.73 614.28M618.22 628.69L627.73 621.08M618.22 635.49L627.73 627.88M618.22 642.29L627.73 634.68M618.22 649.09L627.73 641.48M618.22 655.89L627.73 648.28M618.22 662.69L627.73 655.08M618.22 669.49L627.73 661.88M618.22 676.29L627.73 668.68M618.22 683.09L627.73 675.48M618.22 689.89L627.73 682.28M618.22 696.69L627.73 689.08M618.22 703.49L627.73 695.88M618.22 710.29L627.73 702.68M618.22 717.09L627.73 709.48M618.22 723.89L627.73 716.28M618.22 730.69L627.73 723.08M618.22 737.49L627.73 729.88M618.22 744.29L627.73 736.68M618.22 751.09L627.73 743.48M626.58 751.20L627.73 750.28"/>
<rect class="b" x="66.50" y="623.51" width="9.51" height="127.69" fill="none"/>
<rect class="b" x="76.01" y="600.60" width="9.51" height="150.60" fill="none"/>
<rect class="b" x="85.52" y="631.70" width="9.51" height="119.50" fill="none"/>
<rect class="b" x="104.55" y="531.84" width="9.51" height="219.36" fill="none"/>
<rect class="b" x="114.06" y="576.04" width="9.51" height="175.16" fill="none"/>
<rect class="b" x="123.57" y="590.77" width="9.51" height="160.43" fill="none"/>
<rect class="b" x="142.60" y="540.03" width="9.51" height="211.17" fill="none"/>
<rect class="b" x="152.11" y="546.58" width="9.51" height="204.62" fill="none"/>
<rect class="b" x="161.62" y="579.32" width="9.51" height="171.89" fill="none"/>
<rect class="b" x="180.65" y="602.23" width="9.51" height="148.97" fill="none"/>
<rect class="b" x="190.16" y="621.88" width="9.51" height="129.32" fill="none"/>
<rect class="b" x="199.67" y="638.25" width="9.51" height="112.95" fill="none"/>
<rect class="b" x="218.70" y="502.38" width="9.51" height="248.82" fill="none"/>
<rect class="b" x="228.21" y="520.38" width="9.51" height="230.82" fill="none"/>
<rect class="b" x="237.72" y="551.49" width="9.51" height="199.71" fill="none"/>
<rect class="b" x="256.75" y="508.92" width="9.51" height="242.28" fill="none"/>
<rect class="b" x="266.26" y="495.83" width="9.51" height="255.37" fill="none"/>
<rect class="b" x="275.77" y="564.58" width="9.51" height="186.62" fill="none"/>
<rect class="b" x="294.80" y="576.04" width="9.51" height="175.16" fill="none"/>
<rect class="b" x="304.31" y="615.33" width="9.51" height="135.87" fill="none"/>
<rect class="b" x="313.82" y="608.78" width="9.51" height="142.42" fill="none"/>
<rect class="b" x="332.85" y="484.37" width="9.51" height="266.83" fill="none"/>
<rect class="b" x="342.36" y="531.84" width="9.51" height="219.36" fill="none"/>
<rect class="b" x="351.87" y="536.75" width="9.51" height="214.45" fill="none"/>
<rect class="b" x="370.90" y="556.40" width="9.51" height="194.80" fill="none"/>
<rect class="b" x="380.41" y="567.86" width="9.51" height="183.34" fill="none"/>
<rect class="b" x="389.92" y="572.77" width="9.51" height="178.43" fill="none"/>
<rect class="b" x="408.95" y="448.36" width="9.51" height="302.85" fill="none"/>
<rect class="b" x="418.46" y="590.77" width="9.51" height="160.43" fill="none"/>
<rect class="b" x="427.97" y="512.20" width="9.51" height="239.00" fill="none"/>
<rect class="b" x="447.00" y="544.94" width="9.51" height="206.26" fill="none"/>
<rect class="b" x="456.51" y="482.73" width="9.51" height="268.47" fill="none"/>
<rect class="b" x="466.02" y="602.23" width="9.51" height="148.97" fill="none"/>
<rect class="b" x="485.05" y="536.75" width="9.51" height="214.45" fill="none"/>
<rect class="b" x="494.56" y="626.79" width="9.51" height="124.41" fill="none"/>
<rect class="b" x="504.07" y="625.15" width="9.51" height="126.05" fill="none"/>
<rect class="b" x="523.10" y="615.33" width="9.51" height="135.87" fill="none"/>
<rect class="b" x="532.61" y="572.77" width="9.51" height="178.43" fill="none"/>
<rect class="b" x="542.12" y="613.69" width="9.51" height="137.51" fill="none"/>
<rect class="b" x="561.15" y="466.36" width="9.51" height="284.84" fill="none"/>
<rect class="b" x="570.66" y="553.12" width="9.51" height="198.08" fill="none"/>
<rect class="b" x="580.17" y="546.58" width="9.51" height="204.62" fill="none"/>
<rect class="b" x="599.20" y="518.75" width="9.51" height="232.45" fill="none"/>
<rect class="b" x="608.71" y="638.25" width="9.51" height="112.95" fill="none"/>
<rect class="b" x="618.22" y="556.40" width="9.51" height="194.80" fill="none"/>
<path d="M38.8,433.4 V751.2 H656" fill="none" stroke="#cfcfcf" stroke-width="1"/>
<text class="lt" font-size="7.8" text-anchor="middle" x="91" y="446.8">Infill%</text>
<rect x="46.3" y="453.2" width="16.9" height="5.6" fill="#6fce6c"/><path class="hh" d="M46.30 454.65L47.91 453.20M49.19 458.80L55.41 453.20M56.69 458.80L62.91 453.20"/><rect class="b" x="46.3" y="453.2" width="16.9" height="5.6" fill="none"/>
<text class="lg" font-size="8.45" x="70.7" y="459.1">Honeycomb 10%</text>
<rect x="46.3" y="465.6" width="16.9" height="5.6" fill="#62b3f8"/><path class="hh" d="M46.30 469.75L50.91 465.60M52.19 471.20L58.41 465.60M59.69 471.20L63.20 468.04"/><rect class="b" x="46.3" y="465.6" width="16.9" height="5.6" fill="none"/>
<text class="lg" font-size="8.45" x="70.7" y="471.5">Honeycomb 20%</text>
<rect x="46.3" y="477.8" width="16.9" height="5.6" fill="#f05c53"/><path class="hh" d="M46.30 478.98L47.61 477.80M48.89 483.40L55.11 477.80M56.39 483.40L62.61 477.80"/><rect class="b" x="46.3" y="477.8" width="16.9" height="5.6" fill="none"/>
<text class="lg" font-size="8.45" x="70.7" y="483.7">Honeycomb 30%</text>
</g>
<g>
<text class="pl" font-size="27" transform="translate(4.2,796.2) scale(1.228,1)">c</text>
<text class="tk" text-anchor="end" x="34" y="1122.6">0</text>
<text class="tk" text-anchor="end" x="34" y="1087.54">2</text>
<text class="tk" text-anchor="end" x="34" y="1052.48">4</text>
<text class="tk" text-anchor="end" x="34" y="1017.42">6</text>
<text class="tk" text-anchor="end" x="34" y="982.36">8</text>
<text class="tk" text-anchor="end" x="34" y="947.3">10</text>
<text class="tk" text-anchor="end" x="34" y="912.24">12</text>
<text class="tk" text-anchor="end" x="34" y="877.18">14</text>
<text class="tk" text-anchor="end" x="34" y="842.12">16</text>
<text class="tk" text-anchor="end" x="34" y="807.06">18</text>
<text class="ax" font-size="10.5" text-anchor="middle" transform="translate(20.3,962.45) rotate(-90) scale(1.042,1)">Open Circuit Voltages (V)</text>
<text class="ax" font-size="10.3" text-anchor="middle" x="347.3" y="1134.9">Trials</text>
<rect x="66.60" y="977.01" width="9.51" height="141.99" fill="#6fce6c"/>
<rect x="76.11" y="992.78" width="9.51" height="126.22" fill="#62b3f8"/>
<rect x="85.62" y="1015.57" width="9.51" height="103.43" fill="#f05c53"/>
<rect x="104.65" y="899.88" width="9.51" height="219.12" fill="#6fce6c"/>
<rect x="114.16" y="959.48" width="9.51" height="159.52" fill="#62b3f8"/>
<rect x="123.67" y="991.03" width="9.51" height="127.97" fill="#f05c53"/>
<rect x="142.70" y="931.43" width="9.51" height="187.57" fill="#6fce6c"/>
<rect x="152.21" y="934.93" width="9.51" height="184.06" fill="#62b3f8"/>
<rect x="161.72" y="952.46" width="9.51" height="166.54" fill="#f05c53"/>
<rect x="180.75" y="955.97" width="9.51" height="163.03" fill="#6fce6c"/>
<rect x="190.26" y="999.80" width="9.51" height="119.20" fill="#62b3f8"/>
<rect x="199.77" y="1010.31" width="9.51" height="108.69" fill="#f05c53"/>
<rect x="218.80" y="852.54" width="9.51" height="266.46" fill="#6fce6c"/>
<rect x="228.31" y="920.91" width="9.51" height="198.09" fill="#62b3f8"/>
<rect x="237.82" y="924.42" width="9.51" height="194.58" fill="#f05c53"/>
<rect x="256.85" y="910.39" width="9.51" height="208.61" fill="#6fce6c"/>
<rect x="266.36" y="892.86" width="9.51" height="226.14" fill="#62b3f8"/>
<rect x="275.87" y="936.69" width="9.51" height="182.31" fill="#f05c53"/>
<rect x="294.90" y="859.56" width="9.51" height="259.44" fill="#6fce6c"/>
<rect x="304.41" y="966.49" width="9.51" height="152.51" fill="#62b3f8"/>
<rect x="313.92" y="966.49" width="9.51" height="152.51" fill="#f05c53"/>
<rect x="332.95" y="833.26" width="9.51" height="285.74" fill="#6fce6c"/>
<rect x="342.46" y="887.60" width="9.51" height="231.40" fill="#62b3f8"/>
<rect x="351.97" y="903.38" width="9.51" height="215.62" fill="#f05c53"/>
<rect x="371.00" y="948.96" width="9.51" height="170.04" fill="#6fce6c"/>
<rect x="380.51" y="954.22" width="9.51" height="164.78" fill="#62b3f8"/>
<rect x="390.02" y="982.27" width="9.51" height="136.73" fill="#f05c53"/>
<rect x="409.05" y="884.10" width="9.51" height="234.90" fill="#6fce6c"/>
<rect x="418.56" y="845.53" width="9.51" height="273.47" fill="#62b3f8"/>
<rect x="428.07" y="933.18" width="9.51" height="185.82" fill="#f05c53"/>
<rect x="447.10" y="940.19" width="9.51" height="178.81" fill="#6fce6c"/>
<rect x="456.61" y="929.68" width="9.51" height="189.32" fill="#62b3f8"/>
<rect x="466.12" y="962.98" width="9.51" height="156.02" fill="#f05c53"/>
<rect x="485.15" y="894.62" width="9.51" height="224.38" fill="#6fce6c"/>
<rect x="494.66" y="980.51" width="9.51" height="138.49" fill="#62b3f8"/>
<rect x="504.17" y="1024.34" width="9.51" height="94.66" fill="#f05c53"/>
<rect x="523.20" y="962.98" width="9.51" height="156.02" fill="#6fce6c"/>
<rect x="532.71" y="871.83" width="9.51" height="247.17" fill="#62b3f8"/>
<rect x="542.22" y="999.80" width="9.51" height="119.20" fill="#f05c53"/>
<rect x="561.25" y="829.75" width="9.51" height="289.25" fill="#6fce6c"/>
<rect x="570.76" y="829.75" width="9.51" height="289.25" fill="#62b3f8"/>
<rect x="580.27" y="957.72" width="9.51" height="161.28" fill="#f05c53"/>
<rect x="599.30" y="871.83" width="9.51" height="247.17" fill="#6fce6c"/>
<rect x="608.81" y="973.50" width="9.51" height="145.50" fill="#62b3f8"/>
<rect x="618.32" y="917.40" width="9.51" height="201.60" fill="#f05c53"/>
<path class="hh" d="M66.60 981.74L72.52 977.01M66.60 988.54L76.11 980.93M66.60 995.34L76.11 987.73M66.60 1002.14L76.11 994.53M66.60 1008.94L76.11 1001.33M66.60 1015.74L76.11 1008.13M66.60 1022.54L76.11 1014.93M66.60 1029.34L76.11 1021.73M66.60 1036.14L76.11 1028.53M66.60 1042.94L76.11 1035.33M66.60 1049.74L76.11 1042.13M66.60 1056.54L76.11 1048.93M66.60 1063.34L76.11 1055.73M66.60 1070.14L76.11 1062.53M66.60 1076.94L76.11 1069.33M66.60 1083.74L76.11 1076.13M66.60 1090.54L76.11 1082.93M66.60 1097.34L76.11 1089.73M66.60 1104.14L76.11 1096.53M66.60 1110.94L76.11 1103.33M66.60 1117.74L76.11 1110.13M73.53 1119.00L76.11 1116.93M76.11 999.38L84.35 992.78M76.11 1006.18L85.62 998.57M76.11 1012.98L85.62 1005.37M76.11 1019.78L85.62 1012.17M76.11 1026.58L85.62 1018.97M76.11 1033.38L85.62 1025.77M76.11 1040.18L85.62 1032.57M76.11 1046.98L85.62 1039.37M76.11 1053.78L85.62 1046.17M76.11 1060.58L85.62 1052.97M76.11 1067.38L85.62 1059.77M76.11 1074.18L85.62 1066.57M76.11 1080.98L85.62 1073.37M76.11 1087.78L85.62 1080.17M76.11 1094.58L85.62 1086.97M76.11 1101.38L85.62 1093.77M76.11 1108.18L85.62 1100.57M76.11 1114.98L85.62 1107.37M79.58 1119.00L85.62 1114.17M85.62 1017.02L87.43 1015.57M85.62 1023.82L95.13 1016.21M85.62 1030.62L95.13 1023.01M85.62 1037.42L95.13 1029.81M85.62 1044.22L95.13 1036.61M85.62 1051.02L95.13 1043.41M85.62 1057.82L95.13 1050.21M85.62 1064.62L95.13 1057.01M85.62 1071.42L95.13 1063.81M85.62 1078.22L95.13 1070.61M85.62 1085.02L95.13 1077.41M85.62 1091.82L95.13 1084.21M85.62 1098.62L95.13 1091.01M85.62 1105.42L95.13 1097.81M85.62 1112.22L95.13 1104.61M85.64 1119.00L95.13 1111.41M94.14 1119.00L95.13 1118.21M104.65 902.68L108.16 899.88M104.65 909.48L114.16 901.88M104.65 916.28L114.16 908.68M104.65 923.08L114.16 915.48M104.65 929.88L114.16 922.28M104.65 936.68L114.16 929.08M104.65 943.48L114.16 935.88M104.65 950.28L114.16 942.68M104.65 957.08L114.16 949.48M104.65 963.88L114.16 956.28M104.65 970.68L114.16 963.08M104.65 977.48L114.16 969.88M104.65 984.28L114.16 976.68M104.65 991.08L114.16 983.48M104.65 997.88L114.16 990.28M104.65 1004.68L114.16 997.08M104.65 1011.48L114.16 1003.88M104.65 1018.28L114.16 1010.68M104.65 1025.08L114.16 1017.48M104.65 1031.88L114.16 1024.28M104.65 1038.68L114.16 1031.08M104.65 1045.48L114.16 1037.88M104.65 1052.28L114.16 1044.68M104.65 1059.08L114.16 1051.48M104.65 1065.88L114.16 1058.28M104.65 1072.68L114.16 1065.08M104.65 1079.48L114.16 1071.88M104.65 1086.28L114.16 1078.68M104.65 1093.08L114.16 1085.48M104.65 1099.88L114.16 1092.28M104.65 1106.68L114.16 1099.08M104.65 1113.48L114.16 1105.88M106.26 1119.00L114.16 1112.68M114.16 961.12L116.22 959.48M114.16 967.92L123.67 960.32M114.16 974.72L123.67 967.12M114.16 981.52L123.67 973.92M114.16 988.32L123.67 980.72M114.16 995.12L123.67 987.52M114.16 1001.92L123.67 994.32M114.16 1008.72L123.67 1001.12M114.16 1015.52L123.67 1007.92M114.16 1022.32L123.67 1014.72M114.16 1029.12L123.67 1021.52M114.16 1035.92L123.67 1028.32M114.16 1042.72L123.67 1035.12M114.16 1049.52L123.67 1041.92M114.16 1056.32L123.67 1048.72M114.16 1063.12L123.67 1055.52M114.16 1069.92L123.67 1062.32M114.16 1076.72L123.67 1069.12M114.16 1083.52L123.67 1075.92M114.16 1090.32L123.67 1082.72M114.16 1097.12L123.67 1089.52M114.16 1103.92L123.67 1096.32M114.16 1110.72L123.67 1103.12M114.16 1117.52L123.67 1109.92M120.81 1119.00L123.67 1116.72M123.67 992.36L125.33 991.03M123.67 999.16L133.18 991.55M123.67 1005.96L133.18 998.35M123.67 1012.76L133.18 1005.15M123.67 1019.56L133.18 1011.95M123.67 1026.36L133.18 1018.75M123.67 1033.16L133.18 1025.55M123.67 1039.96L133.18 1032.35M123.67 1046.76L133.18 1039.15M123.67 1053.56L133.18 1045.95M123.67 1060.36L133.18 1052.75M123.67 1067.16L133.18 1059.55M123.67 1073.96L133.18 1066.35M123.67 1080.76L133.18 1073.15M123.67 1087.56L133.18 1079.95M123.67 1094.36L133.18 1086.75M123.67 1101.16L133.18 1093.55M123.67 1107.96L133.18 1100.35M123.67 1114.76L133.18 1107.15M126.87 1119.00L133.18 1113.95M142.70 932.43L143.95 931.43M142.70 939.23L152.21 931.62M142.70 946.03L152.21 938.42M142.70 952.83L152.21 945.22M142.70 959.63L152.21 952.02M142.70 966.43L152.21 958.82M142.70 973.23L152.21 965.62M142.70 980.03L152.21 972.42M142.70 986.83L152.21 979.22M142.70 993.63L152.21 986.02M142.70 1000.43L152.21 992.82M142.70 1007.23L152.21 999.62M142.70 1014.03L152.21 1006.42M142.70 1020.83L152.21 1013.22M142.70 1027.63L152.21 1020.02M142.70 1034.43L152.21 1026.82M142.70 1041.23L152.21 1033.62M142.70 1048.03L152.21 1040.42M142.70 1054.83L152.21 1047.22M142.70 1061.63L152.21 1054.02M142.70 1068.43L152.21 1060.82M142.70 1075.23L152.21 1067.62M142.70 1082.03L152.21 1074.42M142.70 1088.83L152.21 1081.22M142.70 1095.63L152.21 1088.02M142.70 1102.43L152.21 1094.82M142.70 1109.23L152.21 1101.62M142.70 1116.03L152.21 1108.42M147.49 1119.00L152.21 1115.22M152.21 936.47L154.13 934.93M152.21 943.27L161.72 935.66M152.21 950.07L161.72 942.46M152.21 956.87L161.72 949.26M152.21 963.67L161.72 956.06M152.21 970.47L161.72 962.86M152.21 977.27L161.72 969.66M152.21 984.07L161.72 976.46M152.21 990.87L161.72 983.26M152.21 997.67L161.72 990.06M152.21 1004.47L161.72 996.86M152.21 1011.27L161.72 1003.66M152.21 1018.07L161.72 1010.46M152.21 1024.87L161.72 1017.26M152.21 1031.67L161.72 1024.06M152.21 1038.47L161.72 1030.86M152.21 1045.27L161.72 1037.66M152.21 1052.07L161.72 1044.46M152.21 1058.87L161.72 1051.26M152.21 1065.67L161.72 1058.06M152.21 1072.47L161.72 1064.86M152.21 1079.27L161.72 1071.66M152.21 1086.07L161.72 1078.46M152.21 1092.87L161.72 1085.26M152.21 1099.67L161.72 1092.06M152.21 1106.47L161.72 1098.86M152.21 1113.27L161.72 1105.66M153.55 1119.00L161.72 1112.46M161.72 954.11L163.77 952.46M161.72 960.91L171.23 953.30M161.72 967.71L171.23 960.10M161.72 974.51L171.23 966.90M161.72 981.31L171.23 973.70M161.72 988.11L171.23 980.50M161.72 994.91L171.23 987.30M161.72 1001.71L171.23 994.10M161.72 1008.51L171.23 1000.90M161.72 1015.31L171.23 1007.70M161.72 1022.11L171.23 1014.50M161.72 1028.91L171.23 1021.30M161.72 1035.71L171.23 1028.10M161.72 1042.51L171.23 1034.90M161.72 1049.31L171.23 1041.70M161.72 1056.11L171.23 1048.50M161.72 1062.91L171.23 1055.30M161.72 1069.71L171.23 1062.10M161.72 1076.51L171.23 1068.90M161.72 1083.31L171.23 1075.70M161.72 1090.11L171.23 1082.50M161.72 1096.91L171.23 1089.30M161.72 1103.71L171.23 1096.10M161.72 1110.51L171.23 1102.90M161.72 1117.31L171.23 1109.70M168.10 1119.00L171.23 1116.50M180.75 962.17L188.50 955.97M180.75 968.97L190.26 961.37M180.75 975.77L190.26 968.17M180.75 982.57L190.26 974.97M180.75 989.37L190.26 981.77M180.75 996.17L190.26 988.57M180.75 1002.97L190.26 995.37M180.75 1009.77L190.26 1002.17M180.75 1016.57L190.26 1008.97M180.75 1023.37L190.26 1015.77M180.75 1030.17L190.26 1022.57M180.75 1036.97L190.26 1029.37M180.75 1043.77L190.26 1036.17M180.75 1050.57L190.26 1042.97M180.75 1057.37L190.26 1049.77M180.75 1064.17L190.26 1056.57M180.75 1070.97L190.26 1063.37M180.75 1077.77L190.26 1070.17M180.75 1084.57L190.26 1076.97M180.75 1091.37L190.26 1083.77M180.75 1098.17L190.26 1090.57M180.75 1104.97L190.26 1097.37M180.75 1111.77L190.26 1104.17M180.75 1118.57L190.26 1110.97M188.72 1119.00L190.26 1117.77M190.26 1000.21L190.78 999.80M190.26 1007.01L199.28 999.80M190.26 1013.81L199.77 1006.20M190.26 1020.61L199.77 1013.00M190.26 1027.41L199.77 1019.80M190.26 1034.21L199.77 1026.60M190.26 1041.01L199.77 1033.40M190.26 1047.81L199.77 1040.20M190.26 1054.61L199.77 1047.00M190.26 1061.41L199.77 1053.80M190.26 1068.21L199.77 1060.60M190.26 1075.01L199.77 1067.40M190.26 1081.81L199.77 1074.20M190.26 1088.61L199.77 1081.00M190.26 1095.41L199.77 1087.80M190.26 1102.21L199.77 1094.60M190.26 1109.01L199.77 1101.40M190.26 1115.81L199.77 1108.20M194.78 1119.00L199.77 1115.00M199.77 1011.05L200.69 1010.31M199.77 1017.85L209.19 1010.31M199.77 1024.65L209.28 1017.04M199.77 1031.45L209.28 1023.84M199.77 1038.25L209.28 1030.64M199.77 1045.05L209.28 1037.44M199.77 1051.85L209.28 1044.24M199.77 1058.65L209.28 1051.04M199.77 1065.45L209.28 1057.84M199.77 1072.25L209.28 1064.64M199.77 1079.05L209.28 1071.44M199.77 1085.85L209.28 1078.24M199.77 1092.65L209.28 1085.04M199.77 1099.45L209.28 1091.84M199.77 1106.25L209.28 1098.64M199.77 1113.05L209.28 1105.44M200.83 1119.00L209.28 1112.24M218.80 855.92L223.02 852.54M218.80 862.72L228.31 855.11M218.80 869.52L228.31 861.91M218.80 876.32L228.31 868.71M218.80 883.12L228.31 875.51M218.80 889.92L228.31 882.31M218.80 896.72L228.31 889.11M218.80 903.52L228.31 895.91M218.80 910.32L228.31 902.71M218.80 917.12L228.31 909.51M218.80 923.92L228.31 916.31M218.80 930.72L228.31 923.11M218.80 937.52L228.31 929.91M218.80 944.32L228.31 936.71M218.80 951.12L228.31 943.51M218.80 957.92L228.31 950.31M218.80 964.72L228.31 957.11M218.80 971.52L228.31 963.91M218.80 978.32L228.31 970.71M218.80 985.12L228.31 977.51M218.80 991.92L228.31 984.31M218.80 998.72L228.31 991.11M218.80 1005.52L228.31 997.91M218.80 1012.32L228.31 1004.71M218.80 1019.12L228.31 1011.51M218.80 1025.92L228.31 1018.31M218.80 1032.72L228.31 1025.11M218.80 1039.52L228.31 1031.91M218.80 1046.32L228.31 1038.71M218.80 1053.12L228.31 1045.51M218.80 1059.92L228.31 1052.31M218.80 1066.72L228.31 1059.11M218.80 1073.52L228.31 1065.91M218.80 1080.32L228.31 1072.71M218.80 1087.12L228.31 1079.51M218.80 1093.92L228.31 1086.31M218.80 1100.72L228.31 1093.11M218.80 1107.52L228.31 1099.91M218.80 1114.32L228.31 1106.71M221.45 1119.00L228.31 1113.51M228.31 921.16L228.62 920.91M228.31 927.96L237.12 920.91M228.31 934.76L237.82 927.15M228.31 941.56L237.82 933.95M228.31 948.36L237.82 940.75M228.31 955.16L237.82 947.55M228.31 961.96L237.82 954.35M228.31 968.76L237.82 961.15M228.31 975.56L237.82 967.95M228.31 982.36L237.82 974.75M228.31 989.16L237.82 981.55M228.31 995.96L237.82 988.35M228.31 1002.76L237.82 995.15M228.31 1009.56L237.82 1001.95M228.31 1016.36L237.82 1008.75M228.31 1023.16L237.82 1015.55M228.31 1029.96L237.82 1022.35M228.31 1036.76L237.82 1029.15M228.31 1043.56L237.82 1035.95M228.31 1050.36L237.82 1042.75M228.31 1057.16L237.82 1049.55M228.31 1063.96L237.82 1056.35M228.31 1070.76L237.82 1063.15M228.31 1077.56L237.82 1069.95M228.31 1084.36L237.82 1076.75M228.31 1091.16L237.82 1083.55M228.31 1097.96L237.82 1090.35M228.31 1104.76L237.82 1097.15M228.31 1111.56L237.82 1103.95M228.31 1118.36L237.82 1110.75M236.01 1119.00L237.82 1117.55M237.82 925.20L238.79 924.42M237.82 932.00L247.29 924.42M237.82 938.80L247.33 931.19M237.82 945.60L247.33 937.99M237.82 952.40L247.33 944.79M237.82 959.20L247.33 951.59M237.82 966.00L247.33 958.39M237.82 972.80L247.33 965.19M237.82 979.60L247.33 971.99M237.82 986.40L247.33 978.79M237.82 993.20L247.33 985.59M237.82 1000.00L247.33 992.39M237.82 1006.80L247.33 999.19M237.82 1013.60L247.33 1005.99M237.82 1020.40L247.33 1012.79M237.82 1027.20L247.33 1019.59M237.82 1034.00L247.33 1026.39M237.82 1040.80L247.33 1033.19M237.82 1047.60L247.33 1039.99M237.82 1054.40L247.33 1046.79M237.82 1061.20L247.33 1053.59M237.82 1068.00L247.33 1060.39M237.82 1074.80L247.33 1067.19M237.82 1081.60L247.33 1073.99M237.82 1088.40L247.33 1080.79M237.82 1095.20L247.33 1087.59M237.82 1102.00L247.33 1094.39M237.82 1108.80L247.33 1101.19M237.82 1115.60L247.33 1107.99M242.06 1119.00L247.33 1114.79M256.85 912.86L259.94 910.39M256.85 919.66L266.36 912.06M256.85 926.46L266.36 918.86M256.85 933.26L266.36 925.66M256.85 940.06L266.36 932.46M256.85 946.86L266.36 939.26M256.85 953.66L266.36 946.06M256.85 960.46L266.36 952.86M256.85 967.26L266.36 959.66M256.85 974.06L266.36 966.46M256.85 980.86L266.36 973.26M256.85 987.66L266.36 980.06M256.85 994.46L266.36 986.86M256.85 1001.26L266.36 993.66M256.85 1008.06L266.36 1000.46M256.85 1014.86L266.36 1007.26M256.85 1021.66L266.36 1014.06M256.85 1028.46L266.36 1020.86M256.85 1035.26L266.36 1027.66M256.85 1042.06L266.36 1034.46M256.85 1048.86L266.36 1041.26M256.85 1055.66L266.36 1048.06M256.85 1062.46L266.36 1054.86M256.85 1069.26L266.36 1061.66M256.85 1076.06L266.36 1068.46M256.85 1082.86L266.36 1075.26M256.85 1089.66L266.36 1082.06M256.85 1096.46L266.36 1088.86M256.85 1103.26L266.36 1095.66M256.85 1110.06L266.36 1102.46M256.85 1116.86L266.36 1109.26M262.68 1119.00L266.36 1116.06M266.36 896.50L270.91 892.86M266.36 903.30L275.87 895.69M266.36 910.10L275.87 902.49M266.36 916.90L275.87 909.29M266.36 923.70L275.87 916.09M266.36 930.50L275.87 922.89M266.36 937.30L275.87 929.69M266.36 944.10L275.87 936.49M266.36 950.90L275.87 943.29M266.36 957.70L275.87 950.09M266.36 964.50L275.87 956.89M266.36 971.30L275.87 963.69M266.36 978.10L275.87 970.49M266.36 984.90L275.87 977.29M266.36 991.70L275.87 984.09M266.36 998.50L275.87 990.89M266.36 1005.30L275.87 997.69M266.36 1012.10L275.87 1004.49M266.36 1018.90L275.87 1011.29M266.36 1025.70L275.87 1018.09M266.36 1032.50L275.87 1024.89M266.36 1039.30L275.87 1031.69M266.36 1046.10L275.87 1038.49M266.36 1052.90L275.87 1045.29M266.36 1059.70L275.87 1052.09M266.36 1066.50L275.87 1058.89M266.36 1073.30L275.87 1065.69M266.36 1080.10L275.87 1072.49M266.36 1086.90L275.87 1079.29M266.36 1093.70L275.87 1086.09M266.36 1100.50L275.87 1092.89M266.36 1107.30L275.87 1099.69M266.36 1114.10L275.87 1106.49M268.74 1119.00L275.87 1113.29M275.87 941.34L281.69 936.69M275.87 948.14L285.38 940.53M275.87 954.94L285.38 947.33M275.87 961.74L285.38 954.13M275.87 968.54L285.38 960.93M275.87 975.34L285.38 967.73M275.87 982.14L285.38 974.53M275.87 988.94L285.38 981.33M275.87 995.74L285.38 988.13M275.87 1002.54L285.38 994.93M275.87 1009.34L285.38 1001.73M275.87 1016.14L285.38 1008.53M275.87 1022.94L285.38 1015.33M275.87 1029.74L285.38 1022.13M275.87 1036.54L285.38 1028.93M275.87 1043.34L285.38 1035.73M275.87 1050.14L285.38 1042.53M275.87 1056.94L285.38 1049.33M275.87 1063.74L285.38 1056.13M275.87 1070.54L285.38 1062.93M275.87 1077.34L285.38 1069.73M275.87 1084.14L285.38 1076.53M275.87 1090.94L285.38 1083.33M275.87 1097.74L285.38 1090.13M275.87 1104.54L285.38 1096.93M275.87 1111.34L285.38 1103.73M275.87 1118.14L285.38 1110.53M283.30 1119.00L285.38 1117.33M294.90 861.01L296.71 859.56M294.90 867.81L304.41 860.20M294.90 874.61L304.41 867.00M294.90 881.41L304.41 873.80M294.90 888.21L304.41 880.60M294.90 895.01L304.41 887.40M294.90 901.81L304.41 894.20M294.90 908.61L304.41 901.00M294.90 915.41L304.41 907.80M294.90 922.21L304.41 914.60M294.90 929.01L304.41 921.40M294.90 935.81L304.41 928.20M294.90 942.61L304.41 935.00M294.90 949.41L304.41 941.80M294.90 956.21L304.41 948.60M294.90 963.01L304.41 955.40M294.90 969.81L304.41 962.20M294.90 976.61L304.41 969.00M294.90 983.41L304.41 975.80M294.90 990.21L304.41 982.60M294.90 997.01L304.41 989.40M294.90 1003.81L304.41 996.20M294.90 1010.61L304.41 1003.00M294.90 1017.41L304.41 1009.80M294.90 1024.21L304.41 1016.60M294.90 1031.01L304.41 1023.40M294.90 1037.81L304.41 1030.20M294.90 1044.61L304.41 1037.00M294.90 1051.41L304.41 1043.80M294.90 1058.21L304.41 1050.60M294.90 1065.01L304.41 1057.40M294.90 1071.81L304.41 1064.20M294.90 1078.61L304.41 1071.00M294.90 1085.41L304.41 1077.80M294.90 1092.21L304.41 1084.60M294.90 1099.01L304.41 1091.40M294.90 1105.81L304.41 1098.20M294.90 1112.61L304.41 1105.00M295.41 1119.00L304.41 1111.80M303.91 1119.00L304.41 1118.60M304.41 967.05L305.11 966.49M304.41 973.85L313.61 966.49M304.41 980.65L313.92 973.04M304.41 987.45L313.92 979.84M304.41 994.25L313.92 986.64M304.41 1001.05L313.92 993.44M304.41 1007.85L313.92 1000.24M304.41 1014.65L313.92 1007.04M304.41 1021.45L313.92 1013.84M304.41 1028.25L313.92 1020.64M304.41 1035.05L313.92 1027.44M304.41 1041.85L313.92 1034.24M304.41 1048.65L313.92 1041.04M304.41 1055.45L313.92 1047.84M304.41 1062.25L313.92 1054.64M304.41 1069.05L313.92 1061.44M304.41 1075.85L313.92 1068.24M304.41 1082.65L313.92 1075.04M304.41 1089.45L313.92 1081.84M304.41 1096.25L313.92 1088.64M304.41 1103.05L313.92 1095.44M304.41 1109.85L313.92 1102.24M304.41 1116.65L313.92 1109.04M309.97 1119.00L313.92 1115.84M313.92 971.08L319.66 966.49M313.92 977.88L323.43 970.28M313.92 984.68L323.43 977.08M313.92 991.48L323.43 983.88M313.92 998.28L323.43 990.68M313.92 1005.08L323.43 997.48M313.92 1011.88L323.43 1004.28M313.92 1018.68L323.43 1011.08M313.92 1025.48L323.43 1017.88M313.92 1032.28L323.43 1024.68M313.92 1039.08L323.43 1031.48M313.92 1045.88L323.43 1038.28M313.92 1052.68L323.43 1045.08M313.92 1059.48L323.43 1051.88M313.92 1066.28L323.43 1058.68M313.92 1073.08L323.43 1065.48M313.92 1079.88L323.43 1072.28M313.92 1086.68L323.43 1079.08M313.92 1093.48L323.43 1085.88M313.92 1100.28L323.43 1092.68M313.92 1107.08L323.43 1099.48M313.92 1113.88L323.43 1106.28M316.03 1119.00L323.43 1113.08M332.95 836.35L336.81 833.26M332.95 843.15L342.46 835.54M332.95 849.95L342.46 842.34M332.95 856.75L342.46 849.14M332.95 863.55L342.46 855.94M332.95 870.35L342.46 862.74M332.95 877.15L342.46 869.54M332.95 883.95L342.46 876.34M332.95 890.75L342.46 883.14M332.95 897.55L342.46 889.94M332.95 904.35L342.46 896.74M332.95 911.15L342.46 903.54M332.95 917.95L342.46 910.34M332.95 924.75L342.46 917.14M332.95 931.55L342.46 923.94M332.95 938.35L342.46 930.74M332.95 945.15L342.46 937.54M332.95 951.95L342.46 944.34M332.95 958.75L342.46 951.14M332.95 965.55L342.46 957.94M332.95 972.35L342.46 964.74M332.95 979.15L342.46 971.54M332.95 985.95L342.46 978.34M332.95 992.75L342.46 985.14M332.95 999.55L342.46 991.94M332.95 1006.35L342.46 998.74M332.95 1013.15L342.46 1005.54M332.95 1019.95L342.46 1012.34M332.95 1026.75L342.46 1019.14M332.95 1033.55L342.46 1025.94M332.95 1040.35L342.46 1032.74M332.95 1047.15L342.46 1039.54M332.95 1053.95L342.46 1046.34M332.95 1060.75L342.46 1053.14M332.95 1067.55L342.46 1059.94M332.95 1074.35L342.46 1066.74M332.95 1081.15L342.46 1073.54M332.95 1087.95L342.46 1080.34M332.95 1094.75L342.46 1087.14M332.95 1101.55L342.46 1093.94M332.95 1108.35L342.46 1100.74M332.95 1115.15L342.46 1107.54M336.64 1119.00L342.46 1114.34M342.46 887.99L342.94 887.60M342.46 894.79L351.44 887.60M342.46 901.59L351.97 893.98M342.46 908.39L351.97 900.78M342.46 915.19L351.97 907.58M342.46 921.99L351.97 914.38M342.46 928.79L351.97 921.18M342.46 935.59L351.97 927.98M342.46 942.39L351.97 934.78M342.46 949.19L351.97 941.58M342.46 955.99L351.97 948.38M342.46 962.79L351.97 955.18M342.46 969.59L351.97 961.98M342.46 976.39L351.97 968.78M342.46 983.19L351.97 975.58M342.46 989.99L351.97 982.38M342.46 996.79L351.97 989.18M342.46 1003.59L351.97 995.98M342.46 1010.39L351.97 1002.78M342.46 1017.19L351.97 1009.58M342.46 1023.99L351.97 1016.38M342.46 1030.79L351.97 1023.18M342.46 1037.59L351.97 1029.98M342.46 1044.39L351.97 1036.78M342.46 1051.19L351.97 1043.58M342.46 1057.99L351.97 1050.38M342.46 1064.79L351.97 1057.18M342.46 1071.59L351.97 1063.98M342.46 1078.39L351.97 1070.78M342.46 1085.19L351.97 1077.58M342.46 1091.99L351.97 1084.38M342.46 1098.79L351.97 1091.18M342.46 1105.59L351.97 1097.98M342.46 1112.39L351.97 1104.78M342.70 1119.00L351.97 1111.58M351.20 1119.00L351.97 1118.38M351.97 905.63L354.78 903.38M351.97 912.43L361.48 904.82M351.97 919.23L361.48 911.62M351.97 926.03L361.48 918.42M351.97 932.83L361.48 925.22M351.97 939.63L361.48 932.02M351.97 946.43L361.48 938.82M351.97 953.23L361.48 945.62M351.97 960.03L361.48 952.42M351.97 966.83L361.48 959.22M351.97 973.63L361.48 966.02M351.97 980.43L361.48 972.82M351.97 987.23L361.48 979.62M351.97 994.03L361.48 986.42M351.97 1000.83L361.48 993.22M351.97 1007.63L361.48 1000.02M351.97 1014.43L361.48 1006.82M351.97 1021.23L361.48 1013.62M351.97 1028.03L361.48 1020.42M351.97 1034.83L361.48 1027.22M351.97 1041.63L361.48 1034.02M351.97 1048.43L361.48 1040.82M351.97 1055.23L361.48 1047.62M351.97 1062.03L361.48 1054.42M351.97 1068.83L361.48 1061.22M351.97 1075.63L361.48 1068.02M351.97 1082.43L361.48 1074.82M351.97 1089.23L361.48 1081.62M351.97 1096.03L361.48 1088.42M351.97 1102.83L361.48 1095.22M351.97 1109.63L361.48 1102.02M351.97 1116.43L361.48 1108.82M357.26 1119.00L361.48 1115.62M371.00 954.50L377.92 948.96M371.00 961.30L380.51 953.69M371.00 968.10L380.51 960.49M371.00 974.90L380.51 967.29M371.00 981.70L380.51 974.09M371.00 988.50L380.51 980.89M371.00 995.30L380.51 987.69M371.00 1002.10L380.51 994.49M371.00 1008.90L380.51 1001.29M371.00 1015.70L380.51 1008.09M371.00 1022.50L380.51 1014.89M371.00 1029.30L380.51 1021.69M371.00 1036.10L380.51 1028.49M371.00 1042.90L380.51 1035.29M371.00 1049.70L380.51 1042.09M371.00 1056.50L380.51 1048.89M371.00 1063.30L380.51 1055.69M371.00 1070.10L380.51 1062.49M371.00 1076.90L380.51 1069.29M371.00 1083.70L380.51 1076.09M371.00 1090.50L380.51 1082.89M371.00 1097.30L380.51 1089.69M371.00 1104.10L380.51 1096.49M371.00 1110.90L380.51 1103.29M371.00 1117.70L380.51 1110.09M377.87 1119.00L380.51 1116.89M380.51 958.54L385.91 954.22M380.51 965.34L390.02 957.73M380.51 972.14L390.02 964.53M380.51 978.94L390.02 971.33M380.51 985.74L390.02 978.13M380.51 992.54L390.02 984.93M380.51 999.34L390.02 991.73M380.51 1006.14L390.02 998.53M380.51 1012.94L390.02 1005.33M380.51 1019.74L390.02 1012.13M380.51 1026.54L390.02 1018.93M380.51 1033.34L390.02 1025.73M380.51 1040.14L390.02 1032.53M380.51 1046.94L390.02 1039.33M380.51 1053.74L390.02 1046.13M380.51 1060.54L390.02 1052.93M380.51 1067.34L390.02 1059.73M380.51 1074.14L390.02 1066.53M380.51 1080.94L390.02 1073.33M380.51 1087.74L390.02 1080.13M380.51 1094.54L390.02 1086.93M380.51 1101.34L390.02 1093.73M380.51 1108.14L390.02 1100.53M380.51 1114.94L390.02 1107.33M383.93 1119.00L390.02 1114.13M390.02 982.97L390.90 982.27M390.02 989.77L399.40 982.27M390.02 996.57L399.53 988.97M390.02 1003.37L399.53 995.77M390.02 1010.17L399.53 1002.57M390.02 1016.97L399.53 1009.37M390.02 1023.77L399.53 1016.17M390.02 1030.57L399.53 1022.97M390.02 1037.37L399.53 1029.77M390.02 1044.17L399.53 1036.57M390.02 1050.97L399.53 1043.37M390.02 1057.77L399.53 1050.17M390.02 1064.57L399.53 1056.97M390.02 1071.37L399.53 1063.77M390.02 1078.17L399.53 1070.57M390.02 1084.97L399.53 1077.37M390.02 1091.77L399.53 1084.17M390.02 1098.57L399.53 1090.97M390.02 1105.37L399.53 1097.77M390.02 1112.17L399.53 1104.57M390.02 1118.97L399.53 1111.37M398.49 1119.00L399.53 1118.17M409.05 889.04L415.23 884.10M409.05 895.84L418.56 888.23M409.05 902.64L418.56 895.03M409.05 909.44L418.56 901.83M409.05 916.24L418.56 908.63M409.05 923.04L418.56 915.43M409.05 929.84L418.56 922.23M409.05 936.64L418.56 929.03M409.05 943.44L418.56 935.83M409.05 950.24L418.56 942.63M409.05 957.04L418.56 949.43M409.05 963.84L418.56 956.23M409.05 970.64L418.56 963.03M409.05 977.44L418.56 969.83M409.05 984.24L418.56 976.63M409.05 991.04L418.56 983.43M409.05 997.84L418.56 990.23M409.05 1004.64L418.56 997.03M409.05 1011.44L418.56 1003.83M409.05 1018.24L418.56 1010.63M409.05 1025.04L418.56 1017.43M409.05 1031.84L418.56 1024.23M409.05 1038.64L418.56 1031.03M409.05 1045.44L418.56 1037.83M409.05 1052.24L418.56 1044.63M409.05 1059.04L418.56 1051.43M409.05 1065.84L418.56 1058.23M409.05 1072.64L418.56 1065.03M409.05 1079.44L418.56 1071.83M409.05 1086.24L418.56 1078.63M409.05 1093.04L418.56 1085.43M409.05 1099.84L418.56 1092.23M409.05 1106.64L418.56 1099.03M409.05 1113.44L418.56 1105.83M410.60 1119.00L418.56 1112.63M418.56 852.28L426.99 845.53M418.56 859.08L428.07 851.47M418.56 865.88L428.07 858.27M418.56 872.68L428.07 865.07M418.56 879.48L428.07 871.87M418.56 886.28L428.07 878.67M418.56 893.08L428.07 885.47M418.56 899.88L428.07 892.27M418.56 906.68L428.07 899.07M418.56 913.48L428.07 905.87M418.56 920.28L428.07 912.67M418.56 927.08L428.07 919.47M418.56 933.88L428.07 926.27M418.56 940.68L428.07 933.07M418.56 947.48L428.07 939.87M418.56 954.28L428.07 946.67M418.56 961.08L428.07 953.47M418.56 967.88L428.07 960.27M418.56 974.68L428.07 967.07M418.56 981.48L428.07 973.87M418.56 988.28L428.07 980.67M418.56 995.08L428.07 987.47M418.56 1001.88L428.07 994.27M418.56 1008.68L428.07 1001.07M418.56 1015.48L428.07 1007.87M418.56 1022.28L428.07 1014.67M418.56 1029.08L428.07 1021.47M418.56 1035.88L428.07 1028.27M418.56 1042.68L428.07 1035.07M418.56 1049.48L428.07 1041.87M418.56 1056.28L428.07 1048.67M418.56 1063.08L428.07 1055.47M418.56 1069.88L428.07 1062.27M418.56 1076.68L428.07 1069.07M418.56 1083.48L428.07 1075.87M418.56 1090.28L428.07 1082.67M418.56 1097.08L428.07 1089.47M418.56 1103.88L428.07 1096.27M418.56 1110.68L428.07 1103.07M418.56 1117.48L428.07 1109.87M425.16 1119.00L428.07 1116.67M428.07 937.92L433.99 933.18M428.07 944.72L437.58 937.11M428.07 951.52L437.58 943.91M428.07 958.32L437.58 950.71M428.07 965.12L437.58 957.51M428.07 971.92L437.58 964.31M428.07 978.72L437.58 971.11M428.07 985.52L437.58 977.91M428.07 992.32L437.58 984.71M428.07 999.12L437.58 991.51M428.07 1005.92L437.58 998.31M428.07 1012.72L437.58 1005.11M428.07 1019.52L437.58 1011.91M428.07 1026.32L437.58 1018.71M428.07 1033.12L437.58 1025.51M428.07 1039.92L437.58 1032.31M428.07 1046.72L437.58 1039.11M428.07 1053.52L437.58 1045.91M428.07 1060.32L437.58 1052.71M428.07 1067.12L437.58 1059.51M428.07 1073.92L437.58 1066.31M428.07 1080.72L437.58 1073.11M428.07 1087.52L437.58 1079.91M428.07 1094.32L437.58 1086.71M428.07 1101.12L437.58 1093.51M428.07 1107.92L437.58 1100.31M428.07 1114.72L437.58 1107.11M431.22 1119.00L437.58 1113.91M447.10 945.99L454.34 940.19M447.10 952.79L456.61 945.18M447.10 959.59L456.61 951.98M447.10 966.39L456.61 958.78M447.10 973.19L456.61 965.58M447.10 979.99L456.61 972.38M447.10 986.79L456.61 979.18M447.10 993.59L456.61 985.98M447.10 1000.39L456.61 992.78M447.10 1007.19L456.61 999.58M447.10 1013.99L456.61 1006.38M447.10 1020.79L456.61 1013.18M447.10 1027.59L456.61 1019.98M447.10 1034.39L456.61 1026.78M447.10 1041.19L456.61 1033.58M447.10 1047.99L456.61 1040.38M447.10 1054.79L456.61 1047.18M447.10 1061.59L456.61 1053.98M447.10 1068.39L456.61 1060.78M447.10 1075.19L456.61 1067.58M447.10 1081.99L456.61 1074.38M447.10 1088.79L456.61 1081.18M447.10 1095.59L456.61 1087.98M447.10 1102.39L456.61 1094.78M447.10 1109.19L456.61 1101.58M447.10 1115.99L456.61 1108.38M451.83 1119.00L456.61 1115.18M456.61 936.42L465.05 929.68M456.61 943.22L466.12 935.62M456.61 950.02L466.12 942.42M456.61 956.82L466.12 949.22M456.61 963.62L466.12 956.02M456.61 970.42L466.12 962.82M456.61 977.22L466.12 969.62M456.61 984.02L466.12 976.42M456.61 990.82L466.12 983.22M456.61 997.62L466.12 990.02M456.61 1004.42L466.12 996.82M456.61 1011.22L466.12 1003.62M456.61 1018.02L466.12 1010.42M456.61 1024.82L466.12 1017.22M456.61 1031.62L466.12 1024.02M456.61 1038.42L466.12 1030.82M456.61 1045.22L466.12 1037.62M456.61 1052.02L466.12 1044.42M456.61 1058.82L466.12 1051.22M456.61 1065.62L466.12 1058.02M456.61 1072.42L466.12 1064.82M456.61 1079.22L466.12 1071.62M456.61 1086.02L466.12 1078.42M456.61 1092.82L466.12 1085.22M456.61 1099.62L466.12 1092.02M456.61 1106.42L466.12 1098.82M456.61 1113.22L466.12 1105.62M457.89 1119.00L466.12 1112.42M466.12 967.66L471.97 962.98M466.12 974.46L475.63 966.85M466.12 981.26L475.63 973.65M466.12 988.06L475.63 980.45M466.12 994.86L475.63 987.25M466.12 1001.66L475.63 994.05M466.12 1008.46L475.63 1000.85M466.12 1015.26L475.63 1007.65M466.12 1022.06L475.63 1014.45M466.12 1028.86L475.63 1021.25M466.12 1035.66L475.63 1028.05M466.12 1042.46L475.63 1034.85M466.12 1049.26L475.63 1041.65M466.12 1056.06L475.63 1048.45M466.12 1062.86L475.63 1055.25M466.12 1069.66L475.63 1062.05M466.12 1076.46L475.63 1068.85M466.12 1083.26L475.63 1075.65M466.12 1090.06L475.63 1082.45M466.12 1096.86L475.63 1089.25M466.12 1103.66L475.63 1096.05M466.12 1110.46L475.63 1102.85M466.12 1117.26L475.63 1109.65M472.45 1119.00L475.63 1116.45M485.15 900.93L493.04 894.62M485.15 907.73L494.66 900.12M485.15 914.53L494.66 906.92M485.15 921.33L494.66 913.72M485.15 928.13L494.66 920.52M485.15 934.93L494.66 927.32M485.15 941.73L494.66 934.12M485.15 948.53L494.66 940.92M485.15 955.33L494.66 947.72M485.15 962.13L494.66 954.52M485.15 968.93L494.66 961.32M485.15 975.73L494.66 968.12M485.15 982.53L494.66 974.92M485.15 989.33L494.66 981.72M485.15 996.13L494.66 988.52M485.15 1002.93L494.66 995.32M485.15 1009.73L494.66 1002.12M485.15 1016.53L494.66 1008.92M485.15 1023.33L494.66 1015.72M485.15 1030.13L494.66 1022.52M485.15 1036.93L494.66 1029.32M485.15 1043.73L494.66 1036.12M485.15 1050.53L494.66 1042.92M485.15 1057.33L494.66 1049.72M485.15 1064.13L494.66 1056.52M485.15 1070.93L494.66 1063.32M485.15 1077.73L494.66 1070.12M485.15 1084.53L494.66 1076.92M485.15 1091.33L494.66 1083.72M485.15 1098.13L494.66 1090.52M485.15 1104.93L494.66 1097.32M485.15 1111.73L494.66 1104.12M485.15 1118.53L494.66 1110.92M493.06 1119.00L494.66 1117.72M494.66 986.57L502.23 980.51M494.66 993.37L504.17 985.76M494.66 1000.17L504.17 992.56M494.66 1006.97L504.17 999.36M494.66 1013.77L504.17 1006.16M494.66 1020.57L504.17 1012.96M494.66 1027.37L504.17 1019.76M494.66 1034.17L504.17 1026.56M494.66 1040.97L504.17 1033.36M494.66 1047.77L504.17 1040.16M494.66 1054.57L504.17 1046.96M494.66 1061.37L504.17 1053.76M494.66 1068.17L504.17 1060.56M494.66 1074.97L504.17 1067.36M494.66 1081.77L504.17 1074.16M494.66 1088.57L504.17 1080.96M494.66 1095.37L504.17 1087.76M494.66 1102.17L504.17 1094.56M494.66 1108.97L504.17 1101.36M494.66 1115.77L504.17 1108.16M499.12 1119.00L504.17 1114.96M504.17 1024.61L504.51 1024.34M504.17 1031.41L513.01 1024.34M504.17 1038.21L513.68 1030.60M504.17 1045.01L513.68 1037.40M504.17 1051.81L513.68 1044.20M504.17 1058.61L513.68 1051.00M504.17 1065.41L513.68 1057.80M504.17 1072.21L513.68 1064.60M504.17 1079.01L513.68 1071.40M504.17 1085.81L513.68 1078.20M504.17 1092.61L513.68 1085.00M504.17 1099.41L513.68 1091.80M504.17 1106.21L513.68 1098.60M504.17 1113.01L513.68 1105.40M505.18 1119.00L513.68 1112.20M523.20 964.67L525.31 962.98M523.20 971.47L532.71 963.87M523.20 978.27L532.71 970.67M523.20 985.07L532.71 977.47M523.20 991.87L532.71 984.27M523.20 998.67L532.71 991.07M523.20 1005.47L532.71 997.87M523.20 1012.27L532.71 1004.67M523.20 1019.07L532.71 1011.47M523.20 1025.87L532.71 1018.27M523.20 1032.67L532.71 1025.07M523.20 1039.47L532.71 1031.87M523.20 1046.27L532.71 1038.67M523.20 1053.07L532.71 1045.47M523.20 1059.87L532.71 1052.27M523.20 1066.67L532.71 1059.07M523.20 1073.47L532.71 1065.87M523.20 1080.27L532.71 1072.67M523.20 1087.07L532.71 1079.47M523.20 1093.87L532.71 1086.27M523.20 1100.67L532.71 1093.07M523.20 1107.47L532.71 1099.87M523.20 1114.27L532.71 1106.67M525.79 1119.00L532.71 1113.47M532.71 873.51L534.82 871.83M532.71 880.31L542.22 872.71M532.71 887.11L542.22 879.51M532.71 893.91L542.22 886.31M532.71 900.71L542.22 893.11M532.71 907.51L542.22 899.91M532.71 914.31L542.22 906.71M532.71 921.11L542.22 913.51M532.71 927.91L542.22 920.31M532.71 934.71L542.22 927.11M532.71 941.51L542.22 933.91M532.71 948.31L542.22 940.71M532.71 955.11L542.22 947.51M532.71 961.91L542.22 954.31M532.71 968.71L542.22 961.11M532.71 975.51L542.22 967.91M532.71 982.31L542.22 974.71M532.71 989.11L542.22 981.51M532.71 995.91L542.22 988.31M532.71 1002.71L542.22 995.11M532.71 1009.51L542.22 1001.91M532.71 1016.31L542.22 1008.71M532.71 1023.11L542.22 1015.51M532.71 1029.91L542.22 1022.31M532.71 1036.71L542.22 1029.11M532.71 1043.51L542.22 1035.91M532.71 1050.31L542.22 1042.71M532.71 1057.11L542.22 1049.51M532.71 1063.91L542.22 1056.31M532.71 1070.71L542.22 1063.11M532.71 1077.51L542.22 1069.91M532.71 1084.31L542.22 1076.71M532.71 1091.11L542.22 1083.51M532.71 1097.91L542.22 1090.31M532.71 1104.71L542.22 1097.11M532.71 1111.51L542.22 1103.91M532.71 1118.31L542.22 1110.71M540.35 1119.00L542.22 1117.51M542.22 1006.75L550.92 999.80M542.22 1013.55L551.73 1005.94M542.22 1020.35L551.73 1012.74M542.22 1027.15L551.73 1019.54M542.22 1033.95L551.73 1026.34M542.22 1040.75L551.73 1033.14M542.22 1047.55L551.73 1039.94M542.22 1054.35L551.73 1046.74M542.22 1061.15L551.73 1053.54M542.22 1067.95L551.73 1060.34M542.22 1074.75L551.73 1067.14M542.22 1081.55L551.73 1073.94M542.22 1088.35L551.73 1080.74M542.22 1095.15L551.73 1087.54M542.22 1101.95L551.73 1094.34M542.22 1108.75L551.73 1101.14M542.22 1115.55L551.73 1107.94M546.41 1119.00L551.73 1114.74M561.25 831.22L563.08 829.75M561.25 838.02L570.76 830.41M561.25 844.82L570.76 837.21M561.25 851.62L570.76 844.01M561.25 858.42L570.76 850.81M561.25 865.22L570.76 857.61M561.25 872.02L570.76 864.41M561.25 878.82L570.76 871.21M561.25 885.62L570.76 878.01M561.25 892.42L570.76 884.81M561.25 899.22L570.76 891.61M561.25 906.02L570.76 898.41M561.25 912.82L570.76 905.21M561.25 919.62L570.76 912.01M561.25 926.42L570.76 918.81M561.25 933.22L570.76 925.61M561.25 940.02L570.76 932.41M561.25 946.82L570.76 939.21M561.25 953.62L570.76 946.01M561.25 960.42L570.76 952.81M561.25 967.22L570.76 959.61M561.25 974.02L570.76 966.41M561.25 980.82L570.76 973.21M561.25 987.62L570.76 980.01M561.25 994.42L570.76 986.81M561.25 1001.22L570.76 993.61M561.25 1008.02L570.76 1000.41M561.25 1014.82L570.76 1007.21M561.25 1021.62L570.76 1014.01M561.25 1028.42L570.76 1020.81M561.25 1035.22L570.76 1027.61M561.25 1042.02L570.76 1034.41M561.25 1048.82L570.76 1041.21M561.25 1055.62L570.76 1048.01M561.25 1062.42L570.76 1054.81M561.25 1069.22L570.76 1061.61M561.25 1076.02L570.76 1068.41M561.25 1082.82L570.76 1075.21M561.25 1089.62L570.76 1082.01M561.25 1096.42L570.76 1088.81M561.25 1103.22L570.76 1095.61M561.25 1110.02L570.76 1102.41M561.25 1116.82L570.76 1109.21M567.02 1119.00L570.76 1116.01M570.76 835.26L577.64 829.75M570.76 842.06L580.27 834.45M570.76 848.86L580.27 841.25M570.76 855.66L580.27 848.05M570.76 862.46L580.27 854.85M570.76 869.26L580.27 861.65M570.76 876.06L580.27 868.45M570.76 882.86L580.27 875.25M570.76 889.66L580.27 882.05M570.76 896.46L580.27 888.85M570.76 903.26L580.27 895.65M570.76 910.06L580.27 902.45M570.76 916.86L580.27 909.25M570.76 923.66L580.27 916.05M570.76 930.46L580.27 922.85M570.76 937.26L580.27 929.65M570.76 944.06L580.27 936.45M570.76 950.86L580.27 943.25M570.76 957.66L580.27 950.05M570.76 964.46L580.27 956.85M570.76 971.26L580.27 963.65M570.76 978.06L580.27 970.45M570.76 984.86L580.27 977.25M570.76 991.66L580.27 984.05M570.76 998.46L580.27 990.85M570.76 1005.26L580.27 997.65M570.76 1012.06L580.27 1004.45M570.76 1018.86L580.27 1011.25M570.76 1025.66L580.27 1018.05M570.76 1032.46L580.27 1024.85M570.76 1039.26L580.27 1031.65M570.76 1046.06L580.27 1038.45M570.76 1052.86L580.27 1045.25M570.76 1059.66L580.27 1052.05M570.76 1066.46L580.27 1058.85M570.76 1073.26L580.27 1065.65M570.76 1080.06L580.27 1072.45M570.76 1086.86L580.27 1079.25M570.76 1093.66L580.27 1086.05M570.76 1100.46L580.27 1092.85M570.76 1107.26L580.27 1099.65M570.76 1114.06L580.27 1106.45M573.08 1119.00L580.27 1113.25M580.27 961.70L585.24 957.72M580.27 968.50L589.78 960.89M580.27 975.30L589.78 967.69M580.27 982.10L589.78 974.49M580.27 988.90L589.78 981.29M580.27 995.70L589.78 988.09M580.27 1002.50L589.78 994.89M580.27 1009.30L589.78 1001.69M580.27 1016.10L589.78 1008.49M580.27 1022.90L589.78 1015.29M580.27 1029.70L589.78 1022.09M580.27 1036.50L589.78 1028.89M580.27 1043.30L589.78 1035.69M580.27 1050.10L589.78 1042.49M580.27 1056.90L589.78 1049.29M580.27 1063.70L589.78 1056.09M580.27 1070.50L589.78 1062.89M580.27 1077.30L589.78 1069.69M580.27 1084.10L589.78 1076.49M580.27 1090.90L589.78 1083.29M580.27 1097.70L589.78 1090.09M580.27 1104.50L589.78 1096.89M580.27 1111.30L589.78 1103.69M580.27 1118.10L589.78 1110.49M587.64 1119.00L589.78 1117.29M599.30 874.56L602.72 871.83M599.30 881.36L608.81 873.76M599.30 888.16L608.81 880.56M599.30 894.96L608.81 887.36M599.30 901.76L608.81 894.16M599.30 908.56L608.81 900.96M599.30 915.36L608.81 907.76M599.30 922.16L608.81 914.56M599.30 928.96L608.81 921.36M599.30 935.76L608.81 928.16M599.30 942.56L608.81 934.96M599.30 949.36L608.81 941.76M599.30 956.16L608.81 948.56M599.30 962.96L608.81 955.36M599.30 969.76L608.81 962.16M599.30 976.56L608.81 968.96M599.30 983.36L608.81 975.76M599.30 990.16L608.81 982.56M599.30 996.96L608.81 989.36M599.30 1003.76L608.81 996.16M599.30 1010.56L608.81 1002.96M599.30 1017.36L608.81 1009.76M599.30 1024.16L608.81 1016.56M599.30 1030.96L608.81 1023.36M599.30 1037.76L608.81 1030.16M599.30 1044.56L608.81 1036.96M599.30 1051.36L608.81 1043.76M599.30 1058.16L608.81 1050.56M599.30 1064.96L608.81 1057.36M599.30 1071.76L608.81 1064.16M599.30 1078.56L608.81 1070.96M599.30 1085.36L608.81 1077.76M599.30 1092.16L608.81 1084.56M599.30 1098.96L608.81 1091.36M599.30 1105.76L608.81 1098.16M599.30 1112.56L608.81 1104.96M599.75 1119.00L608.81 1111.76M608.25 1119.00L608.81 1118.56M608.81 973.80L609.19 973.50M608.81 980.60L617.69 973.50M608.81 987.40L618.32 979.79M608.81 994.20L618.32 986.59M608.81 1001.00L618.32 993.39M608.81 1007.80L618.32 1000.19M608.81 1014.60L618.32 1006.99M608.81 1021.40L618.32 1013.79M608.81 1028.20L618.32 1020.59M608.81 1035.00L618.32 1027.39M608.81 1041.80L618.32 1034.19M608.81 1048.60L618.32 1040.99M608.81 1055.40L618.32 1047.79M608.81 1062.20L618.32 1054.59M608.81 1069.00L618.32 1061.39M608.81 1075.80L618.32 1068.19M608.81 1082.60L618.32 1074.99M608.81 1089.40L618.32 1081.79M608.81 1096.20L618.32 1088.59M608.81 1103.00L618.32 1095.39M608.81 1109.80L618.32 1102.19M608.81 1116.60L618.32 1108.99M614.31 1119.00L618.32 1115.79M618.32 923.44L625.87 917.40M618.32 930.24L627.83 922.63M618.32 937.04L627.83 929.43M618.32 943.84L627.83 936.23M618.32 950.64L627.83 943.03M618.32 957.44L627.83 949.83M618.32 964.24L627.83 956.63M618.32 971.04L627.83 963.43M618.32 977.84L627.83 970.23M618.32 984.64L627.83 977.03M618.32 991.44L627.83 983.83M618.32 998.24L627.83 990.63M618.32 1005.04L627.83 997.43M618.32 1011.84L627.83 1004.23M618.32 1018.64L627.83 1011.03M618.32 1025.44L627.83 1017.83M618.32 1032.24L627.83 1024.63M618.32 1039.04L627.83 1031.43M618.32 1045.84L627.83 1038.23M618.32 1052.64L627.83 1045.03M618.32 1059.44L627.83 1051.83M618.32 1066.24L627.83 1058.63M618.32 1073.04L627.83 1065.43M618.32 1079.84L627.83 1072.23M618.32 1086.64L627.83 1079.03M618.32 1093.44L627.83 1085.83M618.32 1100.24L627.83 1092.63M618.32 1107.04L627.83 1099.43M618.32 1113.84L627.83 1106.23M620.37 1119.00L627.83 1113.03"/>
<rect class="b" x="66.60" y="977.01" width="9.51" height="141.99" fill="none"/>
<rect class="b" x="76.11" y="992.78" width="9.51" height="126.22" fill="none"/>
<rect class="b" x="85.62" y="1015.57" width="9.51" height="103.43" fill="none"/>
<rect class="b" x="104.65" y="899.88" width="9.51" height="219.12" fill="none"/>
<rect class="b" x="114.16" y="959.48" width="9.51" height="159.52" fill="none"/>
<rect class="b" x="123.67" y="991.03" width="9.51" height="127.97" fill="none"/>
<rect class="b" x="142.70" y="931.43" width="9.51" height="187.57" fill="none"/>
<rect class="b" x="152.21" y="934.93" width="9.51" height="184.06" fill="none"/>
<rect class="b" x="161.72" y="952.46" width="9.51" height="166.54" fill="none"/>
<rect class="b" x="180.75" y="955.97" width="9.51" height="163.03" fill="none"/>
<rect class="b" x="190.26" y="999.80" width="9.51" height="119.20" fill="none"/>
<rect class="b" x="199.77" y="1010.31" width="9.51" height="108.69" fill="none"/>
<rect class="b" x="218.80" y="852.54" width="9.51" height="266.46" fill="none"/>
<rect class="b" x="228.31" y="920.91" width="9.51" height="198.09" fill="none"/>
<rect class="b" x="237.82" y="924.42" width="9.51" height="194.58" fill="none"/>
<rect class="b" x="256.85" y="910.39" width="9.51" height="208.61" fill="none"/>
<rect class="b" x="266.36" y="892.86" width="9.51" height="226.14" fill="none"/>
<rect class="b" x="275.87" y="936.69" width="9.51" height="182.31" fill="none"/>
<rect class="b" x="294.90" y="859.56" width="9.51" height="259.44" fill="none"/>
<rect class="b" x="304.41" y="966.49" width="9.51" height="152.51" fill="none"/>
<rect class="b" x="313.92" y="966.49" width="9.51" height="152.51" fill="none"/>
<rect class="b" x="332.95" y="833.26" width="9.51" height="285.74" fill="none"/>
<rect class="b" x="342.46" y="887.60" width="9.51" height="231.40" fill="none"/>
<rect class="b" x="351.97" y="903.38" width="9.51" height="215.62" fill="none"/>
<rect class="b" x="371.00" y="948.96" width="9.51" height="170.04" fill="none"/>
<rect class="b" x="380.51" y="954.22" width="9.51" height="164.78" fill="none"/>
<rect class="b" x="390.02" y="982.27" width="9.51" height="136.73" fill="none"/>
<rect class="b" x="409.05" y="884.10" width="9.51" height="234.90" fill="none"/>
<rect class="b" x="418.56" y="845.53" width="9.51" height="273.47" fill="none"/>
<rect class="b" x="428.07" y="933.18" width="9.51" height="185.82" fill="none"/>
<rect class="b" x="447.10" y="940.19" width="9.51" height="178.81" fill="none"/>
<rect class="b" x="456.61" y="929.68" width="9.51" height="189.32" fill="none"/>
<rect class="b" x="466.12" y="962.98" width="9.51" height="156.02" fill="none"/>
<rect class="b" x="485.15" y="894.62" width="9.51" height="224.38" fill="none"/>
<rect class="b" x="494.66" y="980.51" width="9.51" height="138.49" fill="none"/>
<rect class="b" x="504.17" y="1024.34" width="9.51" height="94.66" fill="none"/>
<rect class="b" x="523.20" y="962.98" width="9.51" height="156.02" fill="none"/>
<rect class="b" x="532.71" y="871.83" width="9.51" height="247.17" fill="none"/>
<rect class="b" x="542.22" y="999.80" width="9.51" height="119.20" fill="none"/>
<rect class="b" x="561.25" y="829.75" width="9.51" height="289.25" fill="none"/>
<rect class="b" x="570.76" y="829.75" width="9.51" height="289.25" fill="none"/>
<rect class="b" x="580.27" y="957.72" width="9.51" height="161.28" fill="none"/>
<rect class="b" x="599.30" y="871.83" width="9.51" height="247.17" fill="none"/>
<rect class="b" x="608.81" y="973.50" width="9.51" height="145.50" fill="none"/>
<rect class="b" x="618.32" y="917.40" width="9.51" height="201.60" fill="none"/>
<path d="M38.6,803.5 V1119 H656" fill="none" stroke="#cfcfcf" stroke-width="1"/>
<text class="lt" font-size="7.8" text-anchor="middle" x="88.4" y="817.8">Infill%</text>
<rect x="46.3" y="824.2" width="16.9" height="5.6" fill="#6fce6c"/><path class="hh" d="M46.30 825.65L47.91 824.20M49.19 829.80L55.41 824.20M56.69 829.80L62.91 824.20"/><rect class="b" x="46.3" y="824.2" width="16.9" height="5.6" fill="none"/>
<text class="lg" font-size="8.45" x="70.7" y="830.1">Rectilinear 10%</text>
<rect x="46.3" y="836.7" width="16.9" height="5.6" fill="#62b3f8"/><path class="hh" d="M46.30 840.85L50.91 836.70M52.19 842.30L58.41 836.70M59.69 842.30L63.20 839.14"/><rect class="b" x="46.3" y="836.7" width="16.9" height="5.6" fill="none"/>
<text class="lg" font-size="8.45" x="70.7" y="842.6">Rectilinear 20%</text>
<rect x="46.3" y="849" width="16.9" height="5.6" fill="#f05c53"/><path class="hh" d="M46.30 850.18L47.61 849.00M48.89 854.60L55.11 849.00M56.39 854.60L62.61 849.00"/><rect class="b" x="46.3" y="849" width="16.9" height="5.6" fill="none"/>
<text class="lg" font-size="8.45" x="70.7" y="854.9">Rectilinear 30%</text>
</g>
</g></svg></body></html>
